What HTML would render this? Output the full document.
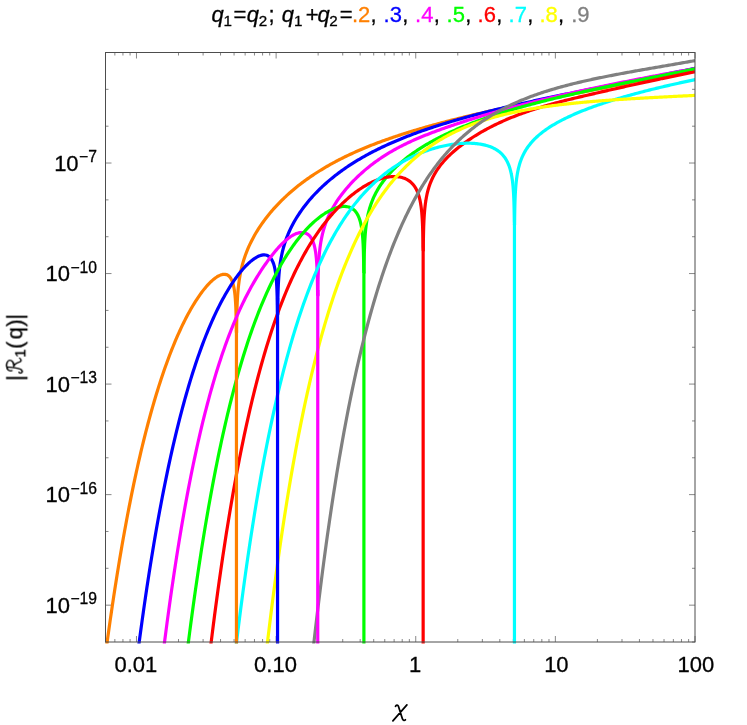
<!DOCTYPE html>
<html><head><meta charset="utf-8"><title>plot</title>
<style>html,body{margin:0;padding:0;background:#fff}svg{display:block}.t text,.t tspan{font-family:"Liberation Sans",sans-serif}.t .ser{font-family:"Liberation Serif",serif}</style></head>
<body>
<svg width="747" height="725" viewBox="0 0 747 725">
<defs><clipPath id="cp"><rect x="105.0" y="52.0" width="590.0" height="591.6"/></clipPath></defs>
<rect width="747" height="725" fill="#fff"/>
<path d="M105.50 642.0 v-3.0 M105.50 52.5 v3.0 M114.85 642.0 v-3.0 M114.85 52.5 v3.0 M122.95 642.0 v-3.0 M122.95 52.5 v3.0 M130.09 642.0 v-3.0 M130.09 52.5 v3.0 M136.48 642.0 v-6.0 M136.48 52.5 v6.0 M178.51 642.0 v-3.0 M178.51 52.5 v3.0 M203.10 642.0 v-3.0 M203.10 52.5 v3.0 M220.54 642.0 v-3.0 M220.54 52.5 v3.0 M234.07 642.0 v-3.0 M234.07 52.5 v3.0 M245.13 642.0 v-3.0 M245.13 52.5 v3.0 M254.48 642.0 v-3.0 M254.48 52.5 v3.0 M262.58 642.0 v-3.0 M262.58 52.5 v3.0 M269.72 642.0 v-3.0 M269.72 52.5 v3.0 M276.11 642.0 v-6.0 M276.11 52.5 v6.0 M318.14 642.0 v-3.0 M318.14 52.5 v3.0 M342.73 642.0 v-3.0 M342.73 52.5 v3.0 M360.17 642.0 v-3.0 M360.17 52.5 v3.0 M373.71 642.0 v-3.0 M373.71 52.5 v3.0 M384.76 642.0 v-3.0 M384.76 52.5 v3.0 M394.11 642.0 v-3.0 M394.11 52.5 v3.0 M402.21 642.0 v-3.0 M402.21 52.5 v3.0 M409.35 642.0 v-3.0 M409.35 52.5 v3.0 M415.74 642.0 v-6.0 M415.74 52.5 v6.0 M457.77 642.0 v-3.0 M457.77 52.5 v3.0 M482.36 642.0 v-3.0 M482.36 52.5 v3.0 M499.80 642.0 v-3.0 M499.80 52.5 v3.0 M513.34 642.0 v-3.0 M513.34 52.5 v3.0 M524.39 642.0 v-3.0 M524.39 52.5 v3.0 M533.74 642.0 v-3.0 M533.74 52.5 v3.0 M541.84 642.0 v-3.0 M541.84 52.5 v3.0 M548.98 642.0 v-3.0 M548.98 52.5 v3.0 M555.37 642.0 v-6.0 M555.37 52.5 v6.0 M597.40 642.0 v-3.0 M597.40 52.5 v3.0 M621.99 642.0 v-3.0 M621.99 52.5 v3.0 M639.44 642.0 v-3.0 M639.44 52.5 v3.0 M652.97 642.0 v-3.0 M652.97 52.5 v3.0 M664.02 642.0 v-3.0 M664.02 52.5 v3.0 M673.37 642.0 v-3.0 M673.37 52.5 v3.0 M681.47 642.0 v-3.0 M681.47 52.5 v3.0 M688.61 642.0 v-3.0 M688.61 52.5 v3.0 M695.00 642.0 v-6 M695.00 52.5 v6 M105.5 642.00 h3.0 M695.0 642.00 h-3.0 M105.5 605.16 h6.0 M695.0 605.16 h-6.0 M105.5 568.31 h3.0 M695.0 568.31 h-3.0 M105.5 531.47 h3.0 M695.0 531.47 h-3.0 M105.5 494.62 h6.0 M695.0 494.62 h-6.0 M105.5 457.78 h3.0 M695.0 457.78 h-3.0 M105.5 420.94 h3.0 M695.0 420.94 h-3.0 M105.5 384.09 h6.0 M695.0 384.09 h-6.0 M105.5 347.25 h3.0 M695.0 347.25 h-3.0 M105.5 310.41 h3.0 M695.0 310.41 h-3.0 M105.5 273.56 h6.0 M695.0 273.56 h-6.0 M105.5 236.72 h3.0 M695.0 236.72 h-3.0 M105.5 199.88 h3.0 M695.0 199.88 h-3.0 M105.5 163.03 h6.0 M695.0 163.03 h-6.0 M105.5 126.19 h3.0 M695.0 126.19 h-3.0 M105.5 89.34 h3.0 M695.0 89.34 h-3.0 M105.5 52.50 h6.0 M695.0 52.50 h-6.0" stroke="#555" stroke-width="0.7" fill="none"/>
<g clip-path="url(#cp)" fill="none" stroke-linejoin="round" stroke-linecap="butt">
<path d="M236.45 332.70 L236.58 332.42 L236.61 329.16 L236.64 325.89 L236.68 322.61 L236.74 319.33 L236.80 316.03 L236.88 312.71 L236.97 309.38 L237.04 307.27 L237.09 306.02 L237.23 302.63 L237.41 299.21 L237.62 295.75 L237.88 292.23 L238.20 288.66 L238.23 288.38 L238.60 285.00 L239.08 281.26 L239.42 278.93 L239.66 277.40 L240.38 273.41 L240.60 272.29 L241.26 269.26 L241.79 267.03 L242.33 264.92 L242.98 262.60 L243.65 260.36 L244.16 258.73 L245.26 255.52 L245.35 255.26 L246.54 252.10 L247.73 249.18 L248.91 246.45 L250.10 243.88 L251.29 241.46 L252.47 239.15 L253.66 236.95 L254.85 234.83 L256.03 232.81 L257.22 230.85 L258.41 228.96 L259.60 227.14 L260.78 225.36 L261.97 223.65 L263.16 221.98 L264.34 220.35 L265.53 218.77 L266.72 217.22 L267.90 215.72 L269.09 214.25 L270.28 212.81 L271.46 211.40 L272.65 210.03 L273.84 208.68 L275.03 207.36 L276.21 206.07 L277.40 204.80 L278.59 203.55 L279.77 202.33 L280.96 201.13 L282.15 199.96 L283.33 198.80 L284.52 197.66 L285.71 196.55 L286.90 195.45 L288.08 194.37 L289.27 193.30 L290.46 192.26 L291.64 191.23 L292.83 190.22 L294.02 189.22 L295.20 188.24 L296.39 187.27 L297.58 186.31 L298.76 185.37 L299.95 184.45 L301.14 183.54 L302.33 182.64 L303.51 181.75 L304.70 180.87 L305.89 180.01 L307.07 179.16 L308.26 178.32 L309.45 177.49 L310.63 176.67 L311.82 175.87 L313.01 175.07 L314.20 174.28 L315.38 173.51 L316.57 172.74 L317.76 171.98 L318.94 171.24 L320.13 170.50 L321.32 169.77 L322.50 169.05 L323.69 168.33 L324.88 167.63 L326.07 166.93 L327.25 166.25 L328.44 165.57 L329.63 164.90 L330.81 164.23 L332.00 163.58 L333.19 162.93 L334.37 162.28 L335.56 161.65 L336.75 161.02 L337.93 160.40 L339.12 159.79 L340.31 159.18 L341.50 158.58 L342.68 157.98 L343.87 157.39 L345.06 156.81 L346.24 156.23 L347.43 155.66 L348.62 155.10 L349.80 154.54 L350.99 153.99 L352.18 153.44 L353.37 152.90 L354.55 152.36 L355.74 151.83 L356.93 151.30 L358.11 150.78 L359.30 150.26 L360.49 149.75 L361.67 149.24 L362.86 148.74 L364.05 148.24 L365.23 147.75 L366.42 147.26 L367.61 146.77 L368.80 146.29 L369.98 145.82 L371.17 145.35 L372.36 144.88 L373.54 144.41 L374.73 143.96 L375.92 143.50 L377.10 143.05 L378.29 142.60 L379.48 142.16 L380.67 141.71 L381.85 141.28 L383.04 140.84 L384.23 140.41 L385.41 139.99 L386.60 139.56 L387.79 139.14 L388.97 138.73 L390.16 138.31 L391.35 137.90 L392.53 137.50 L393.72 137.09 L394.91 136.69 L396.10 136.29 L397.28 135.90 L398.47 135.50 L399.66 135.11 L400.84 134.73 L402.03 134.34 L403.22 133.96 L404.40 133.58 L405.59 133.20 L406.78 132.83 L407.97 132.46 L409.15 132.09 L410.34 131.72 L411.53 131.35 L412.71 130.99 L413.90 130.63 L415.09 130.27 L416.27 129.92 L417.46 129.56 L418.65 129.21 L419.83 128.86 L421.02 128.51 L422.21 128.17 L423.40 127.82 L424.58 127.48 L425.77 127.14 L426.96 126.81 L428.14 126.47 L429.33 126.14 L430.52 125.80 L431.70 125.47 L432.89 125.15 L434.08 124.82 L435.27 124.50 L436.45 124.17 L437.64 123.85 L438.83 123.53 L440.01 123.21 L441.20 122.90 L442.39 122.58 L443.57 122.27 L444.76 121.96 L445.95 121.65 L447.13 121.34 L448.32 121.03 L449.51 120.73 L450.70 120.42 L451.88 120.12 L453.07 119.82 L454.26 119.52 L455.44 119.22 L456.63 118.93 L457.82 118.63 L459.00 118.34 L460.19 118.04 L461.38 117.75 L462.57 117.46 L463.75 117.17 L464.94 116.89 L466.13 116.60 L467.31 116.31 L468.50 116.03 L469.69 115.75 L470.87 115.46 L472.06 115.18 L473.25 114.90 L474.43 114.63 L475.62 114.35 L476.81 114.07 L478.00 113.80 L479.18 113.52 L480.37 113.25 L481.56 112.98 L482.74 112.71 L483.93 112.44 L485.12 112.17 L486.30 111.90 L487.49 111.63 L488.68 111.37 L489.87 111.10 L491.05 110.84 L492.24 110.57 L493.43 110.31 L494.61 110.05 L495.80 109.79 L496.99 109.53 L498.17 109.27 L499.36 109.01 L500.55 108.75 L501.74 108.49 L502.92 108.24 L504.11 107.98 L505.30 107.73 L506.48 107.47 L507.67 107.22 L508.86 106.97 L510.04 106.71 L511.23 106.46 L512.42 106.21 L513.60 105.96 L514.79 105.71 L515.98 105.46 L517.17 105.21 L518.35 104.96 L519.54 104.72 L520.73 104.47 L521.91 104.22 L523.10 103.98 L524.29 103.73 L525.47 103.49 L526.66 103.24 L527.85 103.00 L529.04 102.76 L530.22 102.51 L531.41 102.27 L532.60 102.03 L533.78 101.79 L534.97 101.55 L536.16 101.31 L537.34 101.07 L538.53 100.83 L539.72 100.59 L540.90 100.35 L542.09 100.11 L543.28 99.87 L544.47 99.63 L545.65 99.39 L546.84 99.16 L548.03 98.92 L549.21 98.68 L550.40 98.44 L551.59 98.21 L552.77 97.97 L553.96 97.74 L555.15 97.50 L556.34 97.26 L557.52 97.03 L558.71 96.79 L559.90 96.56 L561.08 96.32 L562.27 96.09 L563.46 95.85 L564.64 95.62 L565.83 95.38 L567.02 95.15 L568.20 94.92 L569.39 94.68 L570.58 94.45 L571.77 94.21 L572.95 93.98 L574.14 93.75 L575.33 93.51 L576.51 93.28 L577.70 93.05 L578.89 92.81 L580.07 92.58 L581.26 92.34 L582.45 92.11 L583.64 91.88 L584.82 91.64 L586.01 91.41 L587.20 91.17 L588.38 90.94 L589.57 90.71 L590.76 90.47 L591.94 90.24 L593.13 90.00 L594.32 89.77 L595.50 89.53 L596.69 89.30 L597.88 89.07 L599.07 88.83 L600.25 88.59 L601.44 88.36 L602.63 88.12 L603.81 87.89 L605.00 87.65 L606.19 87.42 L607.37 87.18 L608.56 86.94 L609.75 86.71 L610.94 86.47 L612.12 86.23 L613.31 85.99 L614.50 85.76 L615.68 85.52 L616.87 85.28 L618.06 85.04 L619.24 84.80 L620.43 84.56 L621.62 84.32 L622.80 84.08 L623.99 83.84 L625.18 83.60 L626.37 83.36 L627.55 83.12 L628.74 82.87 L629.93 82.63 L631.11 82.39 L632.30 82.14 L633.49 81.90 L634.67 81.66 L635.86 81.41 L637.05 81.17 L638.24 80.92 L639.42 80.68 L640.61 80.43 L641.80 80.18 L642.98 79.93 L644.17 79.69 L645.36 79.44 L646.54 79.19 L647.73 78.94 L648.92 78.69 L650.10 78.44 L651.29 78.19 L652.48 77.93 L653.67 77.68 L654.85 77.43 L656.04 77.17 L657.23 76.92 L658.41 76.66 L659.60 76.41 L660.79 76.15 L661.97 75.90 L663.16 75.64 L664.35 75.38 L665.54 75.12 L666.72 74.86 L667.91 74.60 L669.10 74.34 L670.28 74.08 L671.47 73.82 L672.66 73.55 L673.84 73.29 L675.03 73.02 L676.22 72.76 L677.40 72.49 L678.59 72.22 L679.78 71.96 L680.97 71.69 L682.15 71.42 L683.34 71.15 L684.53 70.88 L685.71 70.60 L686.90 70.33 L688.09 70.06 L689.27 69.78 L690.46 69.51 L691.65 69.23 L692.84 68.96 L694.02 68.68 L695.21 68.40 L696.40 68.12" stroke="#ff8000" stroke-width="3.2"/>
<path d="M277.55 314.87 L277.68 314.62 L277.71 311.36 L277.74 308.10 L277.78 304.82 L277.84 301.54 L277.90 298.25 L277.98 294.94 L278.07 291.62 L278.19 288.27 L278.33 284.90 L278.51 281.50 L278.59 280.14 L278.72 278.06 L278.98 274.58 L279.30 271.03 L279.70 267.42 L279.77 266.77 L280.18 263.73 L280.76 259.93 L280.96 258.78 L281.48 256.02 L282.15 252.88 L282.36 251.96 L283.33 248.09 L283.43 247.73 L284.52 244.01 L284.75 243.29 L285.71 240.42 L286.36 238.61 L286.90 237.19 L288.08 234.23 L289.27 231.49 L290.46 228.93 L291.64 226.52 L292.83 224.25 L294.02 222.08 L295.20 220.01 L296.39 218.03 L297.58 216.12 L298.76 214.28 L299.95 212.51 L301.14 210.80 L302.33 209.14 L303.51 207.52 L304.70 205.96 L305.89 204.43 L307.07 202.95 L308.26 201.50 L309.45 200.09 L310.63 198.71 L311.82 197.37 L313.01 196.05 L314.20 194.76 L315.38 193.50 L316.57 192.27 L317.76 191.06 L318.94 189.87 L320.13 188.71 L321.32 187.57 L322.50 186.45 L323.69 185.35 L324.88 184.27 L326.07 183.21 L327.25 182.16 L328.44 181.14 L329.63 180.13 L330.81 179.14 L332.00 178.16 L333.19 177.20 L334.37 176.26 L335.56 175.33 L336.75 174.41 L337.93 173.51 L339.12 172.62 L340.31 171.74 L341.50 170.88 L342.68 170.03 L343.87 169.19 L345.06 168.36 L346.24 167.55 L347.43 166.74 L348.62 165.95 L349.80 165.17 L350.99 164.40 L352.18 163.63 L353.37 162.88 L354.55 162.14 L355.74 161.41 L356.93 160.68 L358.11 159.97 L359.30 159.26 L360.49 158.56 L361.67 157.87 L362.86 157.19 L364.05 156.52 L365.23 155.86 L366.42 155.20 L367.61 154.55 L368.80 153.91 L369.98 153.28 L371.17 152.65 L372.36 152.03 L373.54 151.42 L374.73 150.81 L375.92 150.21 L377.10 149.62 L378.29 149.03 L379.48 148.45 L380.67 147.87 L381.85 147.30 L383.04 146.74 L384.23 146.18 L385.41 145.63 L386.60 145.09 L387.79 144.55 L388.97 144.01 L390.16 143.48 L391.35 142.96 L392.53 142.44 L393.72 141.92 L394.91 141.41 L396.10 140.91 L397.28 140.41 L398.47 139.91 L399.66 139.42 L400.84 138.94 L402.03 138.45 L403.22 137.98 L404.40 137.50 L405.59 137.03 L406.78 136.57 L407.97 136.11 L409.15 135.65 L410.34 135.20 L411.53 134.75 L412.71 134.30 L413.90 133.86 L415.09 133.42 L416.27 132.98 L417.46 132.55 L418.65 132.12 L419.83 131.70 L421.02 131.28 L422.21 130.86 L423.40 130.45 L424.58 130.03 L425.77 129.63 L426.96 129.22 L428.14 128.82 L429.33 128.42 L430.52 128.02 L431.70 127.63 L432.89 127.24 L434.08 126.85 L435.27 126.47 L436.45 126.08 L437.64 125.70 L438.83 125.33 L440.01 124.95 L441.20 124.58 L442.39 124.21 L443.57 123.84 L444.76 123.48 L445.95 123.12 L447.13 122.76 L448.32 122.40 L449.51 122.04 L450.70 121.69 L451.88 121.34 L453.07 120.99 L454.26 120.64 L455.44 120.30 L456.63 119.96 L457.82 119.62 L459.00 119.28 L460.19 118.94 L461.38 118.61 L462.57 118.28 L463.75 117.94 L464.94 117.62 L466.13 117.29 L467.31 116.96 L468.50 116.64 L469.69 116.32 L470.87 116.00 L472.06 115.68 L473.25 115.36 L474.43 115.05 L475.62 114.74 L476.81 114.42 L478.00 114.11 L479.18 113.81 L480.37 113.50 L481.56 113.19 L482.74 112.89 L483.93 112.59 L485.12 112.29 L486.30 111.99 L487.49 111.69 L488.68 111.39 L489.87 111.09 L491.05 110.80 L492.24 110.51 L493.43 110.22 L494.61 109.92 L495.80 109.64 L496.99 109.35 L498.17 109.06 L499.36 108.78 L500.55 108.49 L501.74 108.21 L502.92 107.93 L504.11 107.64 L505.30 107.36 L506.48 107.09 L507.67 106.81 L508.86 106.53 L510.04 106.26 L511.23 105.98 L512.42 105.71 L513.60 105.43 L514.79 105.16 L515.98 104.89 L517.17 104.62 L518.35 104.35 L519.54 104.08 L520.73 103.82 L521.91 103.55 L523.10 103.29 L524.29 103.02 L525.47 102.76 L526.66 102.49 L527.85 102.23 L529.04 101.97 L530.22 101.71 L531.41 101.45 L532.60 101.19 L533.78 100.93 L534.97 100.68 L536.16 100.42 L537.34 100.16 L538.53 99.91 L539.72 99.65 L540.90 99.40 L542.09 99.14 L543.28 98.89 L544.47 98.64 L545.65 98.39 L546.84 98.14 L548.03 97.89 L549.21 97.64 L550.40 97.39 L551.59 97.14 L552.77 96.89 L553.96 96.64 L555.15 96.39 L556.34 96.15 L557.52 95.90 L558.71 95.66 L559.90 95.41 L561.08 95.17 L562.27 94.92 L563.46 94.68 L564.64 94.43 L565.83 94.19 L567.02 93.95 L568.20 93.71 L569.39 93.46 L570.58 93.22 L571.77 92.98 L572.95 92.74 L574.14 92.50 L575.33 92.26 L576.51 92.02 L577.70 91.78 L578.89 91.54 L580.07 91.30 L581.26 91.06 L582.45 90.83 L583.64 90.59 L584.82 90.35 L586.01 90.11 L587.20 89.88 L588.38 89.64 L589.57 89.40 L590.76 89.17 L591.94 88.93 L593.13 88.69 L594.32 88.46 L595.50 88.22 L596.69 87.99 L597.88 87.75 L599.07 87.52 L600.25 87.28 L601.44 87.05 L602.63 86.81 L603.81 86.58 L605.00 86.34 L606.19 86.11 L607.37 85.87 L608.56 85.64 L609.75 85.40 L610.94 85.17 L612.12 84.94 L613.31 84.70 L614.50 84.47 L615.68 84.23 L616.87 84.00 L618.06 83.77 L619.24 83.53 L620.43 83.30 L621.62 83.06 L622.80 82.83 L623.99 82.60 L625.18 82.36 L626.37 82.13 L627.55 81.89 L628.74 81.66 L629.93 81.43 L631.11 81.19 L632.30 80.96 L633.49 80.72 L634.67 80.49 L635.86 80.25 L637.05 80.02 L638.24 79.78 L639.42 79.55 L640.61 79.31 L641.80 79.08 L642.98 78.84 L644.17 78.61 L645.36 78.37 L646.54 78.14 L647.73 77.90 L648.92 77.67 L650.10 77.43 L651.29 77.19 L652.48 76.96 L653.67 76.72 L654.85 76.48 L656.04 76.24 L657.23 76.01 L658.41 75.77 L659.60 75.53 L660.79 75.29 L661.97 75.05 L663.16 74.82 L664.35 74.58 L665.54 74.34 L666.72 74.10 L667.91 73.86 L669.10 73.62 L670.28 73.38 L671.47 73.14 L672.66 72.90 L673.84 72.65 L675.03 72.41 L676.22 72.17 L677.40 71.93 L678.59 71.68 L679.78 71.44 L680.97 71.20 L682.15 70.95 L683.34 70.71 L684.53 70.46 L685.71 70.22 L686.90 69.97 L688.09 69.73 L689.27 69.48 L690.46 69.23 L691.65 68.99 L692.84 68.74 L694.02 68.49 L695.21 68.24 L696.40 67.99" stroke="#0000ff" stroke-width="3.2"/>
<path d="M317.75 295.68 L317.88 295.47 L317.91 292.22 L317.94 288.96 L317.98 285.70 L318.04 282.43 L318.10 279.15 L318.18 275.86 L318.27 272.55 L318.39 269.23 L318.53 265.89 L318.71 262.52 L318.92 259.12 L318.94 258.80 L319.18 255.68 L319.50 252.20 L319.90 248.66 L320.13 246.81 L320.38 245.05 L320.96 241.37 L321.32 239.41 L321.68 237.58 L322.50 233.90 L322.56 233.67 L323.63 229.62 L323.69 229.43 L324.88 225.62 L324.95 225.40 L326.07 222.27 L326.56 220.97 L327.25 219.25 L328.44 216.50 L329.63 213.96 L330.81 211.58 L332.00 209.35 L333.19 207.23 L334.37 205.22 L335.56 203.30 L336.75 201.46 L337.93 199.69 L339.12 197.99 L340.31 196.34 L341.50 194.74 L342.68 193.20 L343.87 191.69 L345.06 190.23 L346.24 188.81 L347.43 187.42 L348.62 186.07 L349.80 184.75 L350.99 183.45 L352.18 182.19 L353.37 180.96 L354.55 179.75 L355.74 178.56 L356.93 177.40 L358.11 176.27 L359.30 175.15 L360.49 174.06 L361.67 172.99 L362.86 171.94 L364.05 170.90 L365.23 169.89 L366.42 168.89 L367.61 167.92 L368.80 166.96 L369.98 166.01 L371.17 165.09 L372.36 164.18 L373.54 163.28 L374.73 162.40 L375.92 161.54 L377.10 160.69 L378.29 159.85 L379.48 159.03 L380.67 158.23 L381.85 157.43 L383.04 156.65 L384.23 155.88 L385.41 155.13 L386.60 154.38 L387.79 153.65 L388.97 152.93 L390.16 152.22 L391.35 151.53 L392.53 150.84 L393.72 150.16 L394.91 149.50 L396.10 148.84 L397.28 148.20 L398.47 147.56 L399.66 146.94 L400.84 146.32 L402.03 145.71 L403.22 145.11 L404.40 144.52 L405.59 143.94 L406.78 143.37 L407.97 142.80 L409.15 142.24 L410.34 141.69 L411.53 141.15 L412.71 140.61 L413.90 140.08 L415.09 139.56 L416.27 139.04 L417.46 138.53 L418.65 138.02 L419.83 137.53 L421.02 137.03 L422.21 136.54 L423.40 136.06 L424.58 135.58 L425.77 135.11 L426.96 134.64 L428.14 134.17 L429.33 133.71 L430.52 133.26 L431.70 132.80 L432.89 132.36 L434.08 131.91 L435.27 131.47 L436.45 131.03 L437.64 130.59 L438.83 130.16 L440.01 129.72 L441.20 129.30 L442.39 128.87 L443.57 128.45 L444.76 128.03 L445.95 127.61 L447.13 127.19 L448.32 126.78 L449.51 126.37 L450.70 125.96 L451.88 125.55 L453.07 125.15 L454.26 124.75 L455.44 124.35 L456.63 123.95 L457.82 123.56 L459.00 123.17 L460.19 122.78 L461.38 122.39 L462.57 122.00 L463.75 121.62 L464.94 121.24 L466.13 120.86 L467.31 120.48 L468.50 120.10 L469.69 119.73 L470.87 119.36 L472.06 118.99 L473.25 118.62 L474.43 118.25 L475.62 117.89 L476.81 117.53 L478.00 117.17 L479.18 116.81 L480.37 116.45 L481.56 116.09 L482.74 115.74 L483.93 115.39 L485.12 115.04 L486.30 114.69 L487.49 114.34 L488.68 114.00 L489.87 113.65 L491.05 113.31 L492.24 112.97 L493.43 112.63 L494.61 112.29 L495.80 111.96 L496.99 111.62 L498.17 111.29 L499.36 110.96 L500.55 110.63 L501.74 110.30 L502.92 109.97 L504.11 109.65 L505.30 109.32 L506.48 109.00 L507.67 108.67 L508.86 108.35 L510.04 108.03 L511.23 107.72 L512.42 107.40 L513.60 107.08 L514.79 106.77 L515.98 106.46 L517.17 106.15 L518.35 105.83 L519.54 105.53 L520.73 105.22 L521.91 104.91 L523.10 104.60 L524.29 104.30 L525.47 104.00 L526.66 103.69 L527.85 103.39 L529.04 103.09 L530.22 102.79 L531.41 102.50 L532.60 102.20 L533.78 101.90 L534.97 101.61 L536.16 101.31 L537.34 101.02 L538.53 100.73 L539.72 100.44 L540.90 100.15 L542.09 99.86 L543.28 99.57 L544.47 99.29 L545.65 99.00 L546.84 98.72 L548.03 98.43 L549.21 98.15 L550.40 97.87 L551.59 97.59 L552.77 97.31 L553.96 97.03 L555.15 96.75 L556.34 96.47 L557.52 96.20 L558.71 95.92 L559.90 95.65 L561.08 95.37 L562.27 95.10 L563.46 94.83 L564.64 94.56 L565.83 94.29 L567.02 94.02 L568.20 93.75 L569.39 93.48 L570.58 93.21 L571.77 92.95 L572.95 92.68 L574.14 92.42 L575.33 92.15 L576.51 91.89 L577.70 91.63 L578.89 91.37 L580.07 91.11 L581.26 90.85 L582.45 90.59 L583.64 90.33 L584.82 90.07 L586.01 89.81 L587.20 89.56 L588.38 89.30 L589.57 89.05 L590.76 88.79 L591.94 88.54 L593.13 88.28 L594.32 88.03 L595.50 87.78 L596.69 87.53 L597.88 87.28 L599.07 87.03 L600.25 86.78 L601.44 86.53 L602.63 86.29 L603.81 86.04 L605.00 85.79 L606.19 85.55 L607.37 85.30 L608.56 85.06 L609.75 84.81 L610.94 84.57 L612.12 84.33 L613.31 84.09 L614.50 83.84 L615.68 83.60 L616.87 83.36 L618.06 83.12 L619.24 82.89 L620.43 82.65 L621.62 82.41 L622.80 82.17 L623.99 81.94 L625.18 81.70 L626.37 81.46 L627.55 81.23 L628.74 80.99 L629.93 80.76 L631.11 80.53 L632.30 80.29 L633.49 80.06 L634.67 79.83 L635.86 79.60 L637.05 79.37 L638.24 79.14 L639.42 78.91 L640.61 78.68 L641.80 78.45 L642.98 78.22 L644.17 77.99 L645.36 77.77 L646.54 77.54 L647.73 77.31 L648.92 77.09 L650.10 76.86 L651.29 76.64 L652.48 76.41 L653.67 76.19 L654.85 75.96 L656.04 75.74 L657.23 75.52 L658.41 75.30 L659.60 75.08 L660.79 74.85 L661.97 74.63 L663.16 74.41 L664.35 74.19 L665.54 73.97 L666.72 73.75 L667.91 73.54 L669.10 73.32 L670.28 73.10 L671.47 72.88 L672.66 72.66 L673.84 72.45 L675.03 72.23 L676.22 72.02 L677.40 71.80 L678.59 71.59 L679.78 71.37 L680.97 71.16 L682.15 70.94 L683.34 70.73 L684.53 70.52 L685.71 70.30 L686.90 70.09 L688.09 69.88 L689.27 69.67 L690.46 69.46 L691.65 69.24 L692.84 69.03 L694.02 68.82 L695.21 68.61 L696.40 68.40" stroke="#ff00ff" stroke-width="3.2"/>
<path d="M363.90 272.90 L364.03 272.73 L364.05 270.32 L364.06 269.48 L364.09 266.23 L364.13 262.98 L364.19 259.71 L364.25 256.44 L364.33 253.17 L364.42 249.88 L364.54 246.57 L364.68 243.25 L364.86 239.91 L365.07 236.55 L365.23 234.35 L365.33 233.15 L365.65 229.72 L366.05 226.24 L366.42 223.42 L366.53 222.72 L367.11 219.12 L367.61 216.51 L367.83 215.45 L368.71 211.68 L368.80 211.35 L369.78 207.80 L369.98 207.16 L371.10 203.79 L371.17 203.60 L372.36 200.48 L372.71 199.62 L373.54 197.69 L374.73 195.16 L375.92 192.82 L377.10 190.66 L378.29 188.63 L379.48 186.72 L380.67 184.91 L381.85 183.19 L383.04 181.55 L384.23 179.97 L385.41 178.47 L386.60 177.01 L387.79 175.61 L388.97 174.26 L390.16 172.94 L391.35 171.67 L392.53 170.44 L393.72 169.24 L394.91 168.07 L396.10 166.93 L397.28 165.83 L398.47 164.74 L399.66 163.69 L400.84 162.65 L402.03 161.64 L403.22 160.65 L404.40 159.69 L405.59 158.74 L406.78 157.81 L407.97 156.89 L409.15 156.00 L410.34 155.12 L411.53 154.26 L412.71 153.41 L413.90 152.58 L415.09 151.76 L416.27 150.95 L417.46 150.16 L418.65 149.38 L419.83 148.62 L421.02 147.86 L422.21 147.12 L423.40 146.38 L424.58 145.66 L425.77 144.95 L426.96 144.25 L428.14 143.56 L429.33 142.88 L430.52 142.20 L431.70 141.54 L432.89 140.88 L434.08 140.24 L435.27 139.60 L436.45 138.97 L437.64 138.35 L438.83 137.74 L440.01 137.13 L441.20 136.53 L442.39 135.94 L443.57 135.35 L444.76 134.78 L445.95 134.20 L447.13 133.64 L448.32 133.08 L449.51 132.53 L450.70 131.98 L451.88 131.44 L453.07 130.91 L454.26 130.38 L455.44 129.86 L456.63 129.34 L457.82 128.83 L459.00 128.32 L460.19 127.82 L461.38 127.32 L462.57 126.83 L463.75 126.34 L464.94 125.86 L466.13 125.38 L467.31 124.91 L468.50 124.44 L469.69 123.98 L470.87 123.52 L472.06 123.06 L473.25 122.61 L474.43 122.16 L475.62 121.72 L476.81 121.28 L478.00 120.85 L479.18 120.41 L480.37 119.98 L481.56 119.56 L482.74 119.14 L483.93 118.72 L485.12 118.31 L486.30 117.90 L487.49 117.49 L488.68 117.08 L489.87 116.68 L491.05 116.28 L492.24 115.89 L493.43 115.50 L494.61 115.11 L495.80 114.72 L496.99 114.34 L498.17 113.96 L499.36 113.58 L500.55 113.21 L501.74 112.83 L502.92 112.46 L504.11 112.10 L505.30 111.73 L506.48 111.37 L507.67 111.01 L508.86 110.65 L510.04 110.30 L511.23 109.95 L512.42 109.60 L513.60 109.25 L514.79 108.90 L515.98 108.56 L517.17 108.22 L518.35 107.88 L519.54 107.54 L520.73 107.21 L521.91 106.88 L523.10 106.54 L524.29 106.22 L525.47 105.89 L526.66 105.56 L527.85 105.24 L529.04 104.92 L530.22 104.60 L531.41 104.28 L532.60 103.96 L533.78 103.65 L534.97 103.34 L536.16 103.03 L537.34 102.72 L538.53 102.41 L539.72 102.10 L540.90 101.80 L542.09 101.49 L543.28 101.19 L544.47 100.89 L545.65 100.59 L546.84 100.29 L548.03 100.00 L549.21 99.70 L550.40 99.41 L551.59 99.12 L552.77 98.83 L553.96 98.54 L555.15 98.25 L556.34 97.96 L557.52 97.68 L558.71 97.39 L559.90 97.11 L561.08 96.83 L562.27 96.55 L563.46 96.27 L564.64 95.99 L565.83 95.71 L567.02 95.44 L568.20 95.16 L569.39 94.89 L570.58 94.61 L571.77 94.34 L572.95 94.07 L574.14 93.80 L575.33 93.53 L576.51 93.26 L577.70 92.99 L578.89 92.73 L580.07 92.46 L581.26 92.20 L582.45 91.93 L583.64 91.67 L584.82 91.41 L586.01 91.15 L587.20 90.89 L588.38 90.63 L589.57 90.37 L590.76 90.11 L591.94 89.85 L593.13 89.59 L594.32 89.34 L595.50 89.08 L596.69 88.83 L597.88 88.57 L599.07 88.32 L600.25 88.07 L601.44 87.82 L602.63 87.56 L603.81 87.31 L605.00 87.06 L606.19 86.81 L607.37 86.56 L608.56 86.32 L609.75 86.07 L610.94 85.82 L612.12 85.57 L613.31 85.33 L614.50 85.08 L615.68 84.83 L616.87 84.59 L618.06 84.35 L619.24 84.10 L620.43 83.86 L621.62 83.61 L622.80 83.37 L623.99 83.13 L625.18 82.89 L626.37 82.65 L627.55 82.40 L628.74 82.16 L629.93 81.92 L631.11 81.68 L632.30 81.44 L633.49 81.20 L634.67 80.96 L635.86 80.72 L637.05 80.49 L638.24 80.25 L639.42 80.01 L640.61 79.77 L641.80 79.53 L642.98 79.30 L644.17 79.06 L645.36 78.82 L646.54 78.59 L647.73 78.35 L648.92 78.11 L650.10 77.88 L651.29 77.64 L652.48 77.40 L653.67 77.17 L654.85 76.93 L656.04 76.70 L657.23 76.46 L658.41 76.23 L659.60 75.99 L660.79 75.76 L661.97 75.52 L663.16 75.29 L664.35 75.05 L665.54 74.82 L666.72 74.58 L667.91 74.35 L669.10 74.12 L670.28 73.88 L671.47 73.65 L672.66 73.41 L673.84 73.18 L675.03 72.94 L676.22 72.71 L677.40 72.47 L678.59 72.24 L679.78 72.00 L680.97 71.77 L682.15 71.54 L683.34 71.30 L684.53 71.07 L685.71 70.83 L686.90 70.60 L688.09 70.36 L689.27 70.13 L690.46 69.89 L691.65 69.66 L692.84 69.42 L694.02 69.18 L695.21 68.95 L696.40 68.71" stroke="#00ff00" stroke-width="3.2"/>
<path d="M423.15 250.43 L423.28 250.33 L423.31 247.09 L423.34 243.85 L423.38 240.60 L423.40 239.75 L423.44 237.35 L423.50 234.10 L423.58 230.84 L423.67 227.57 L423.79 224.30 L423.93 221.01 L424.11 217.72 L424.32 214.41 L424.58 211.08 L424.58 211.08 L424.90 207.72 L425.30 204.34 L425.77 200.97 L425.78 200.93 L426.36 197.48 L426.96 194.54 L427.08 193.98 L427.96 190.41 L428.14 189.74 L429.03 186.78 L429.33 185.88 L430.35 183.05 L430.52 182.62 L431.70 179.79 L431.96 179.22 L432.89 177.27 L434.08 174.99 L435.27 172.90 L436.45 170.97 L437.64 169.16 L438.83 167.47 L440.01 165.87 L441.20 164.35 L442.39 162.90 L443.57 161.51 L444.76 160.18 L445.95 158.90 L447.13 157.66 L448.32 156.46 L449.51 155.31 L450.70 154.18 L451.88 153.09 L453.07 152.02 L454.26 150.99 L455.44 149.97 L456.63 148.98 L457.82 148.02 L459.00 147.07 L460.19 146.15 L461.38 145.24 L462.57 144.35 L463.75 143.47 L464.94 142.62 L466.13 141.77 L467.31 140.95 L468.50 140.13 L469.69 139.33 L470.87 138.55 L472.06 137.77 L473.25 137.01 L474.43 136.26 L475.62 135.52 L476.81 134.79 L478.00 134.07 L479.18 133.37 L480.37 132.67 L481.56 131.98 L482.74 131.31 L483.93 130.64 L485.12 129.98 L486.30 129.33 L487.49 128.70 L488.68 128.07 L489.87 127.44 L491.05 126.83 L492.24 126.23 L493.43 125.63 L494.61 125.04 L495.80 124.46 L496.99 123.89 L498.17 123.33 L499.36 122.77 L500.55 122.22 L501.74 121.68 L502.92 121.14 L504.11 120.62 L505.30 120.10 L506.48 119.58 L507.67 119.07 L508.86 118.57 L510.04 118.08 L511.23 117.59 L512.42 117.11 L513.60 116.64 L514.79 116.17 L515.98 115.70 L517.17 115.25 L518.35 114.80 L519.54 114.35 L520.73 113.91 L521.91 113.47 L523.10 113.04 L524.29 112.62 L525.47 112.20 L526.66 111.79 L527.85 111.38 L529.04 110.97 L530.22 110.58 L531.41 110.18 L532.60 109.79 L533.78 109.41 L534.97 109.02 L536.16 108.65 L537.34 108.27 L538.53 107.91 L539.72 107.54 L540.90 107.18 L542.09 106.82 L543.28 106.47 L544.47 106.12 L545.65 105.78 L546.84 105.43 L548.03 105.09 L549.21 104.76 L550.40 104.43 L551.59 104.10 L552.77 103.77 L553.96 103.45 L555.15 103.13 L556.34 102.81 L557.52 102.49 L558.71 102.18 L559.90 101.87 L561.08 101.56 L562.27 101.26 L563.46 100.95 L564.64 100.65 L565.83 100.35 L567.02 100.06 L568.20 99.76 L569.39 99.47 L570.58 99.18 L571.77 98.89 L572.95 98.60 L574.14 98.31 L575.33 98.02 L576.51 97.74 L577.70 97.46 L578.89 97.17 L580.07 96.89 L581.26 96.61 L582.45 96.33 L583.64 96.05 L584.82 95.78 L586.01 95.50 L587.20 95.22 L588.38 94.95 L589.57 94.67 L590.76 94.39 L591.94 94.12 L593.13 93.84 L594.32 93.57 L595.50 93.29 L596.69 93.02 L597.88 92.75 L599.07 92.47 L600.25 92.20 L601.44 91.93 L602.63 91.66 L603.81 91.39 L605.00 91.11 L606.19 90.84 L607.37 90.57 L608.56 90.30 L609.75 90.03 L610.94 89.76 L612.12 89.49 L613.31 89.23 L614.50 88.96 L615.68 88.69 L616.87 88.42 L618.06 88.16 L619.24 87.89 L620.43 87.62 L621.62 87.36 L622.80 87.09 L623.99 86.83 L625.18 86.56 L626.37 86.30 L627.55 86.03 L628.74 85.77 L629.93 85.51 L631.11 85.24 L632.30 84.98 L633.49 84.72 L634.67 84.46 L635.86 84.20 L637.05 83.94 L638.24 83.68 L639.42 83.42 L640.61 83.16 L641.80 82.90 L642.98 82.64 L644.17 82.38 L645.36 82.12 L646.54 81.87 L647.73 81.61 L648.92 81.35 L650.10 81.10 L651.29 80.84 L652.48 80.59 L653.67 80.33 L654.85 80.08 L656.04 79.82 L657.23 79.57 L658.41 79.32 L659.60 79.07 L660.79 78.81 L661.97 78.56 L663.16 78.31 L664.35 78.06 L665.54 77.81 L666.72 77.56 L667.91 77.31 L669.10 77.07 L670.28 76.82 L671.47 76.57 L672.66 76.32 L673.84 76.08 L675.03 75.83 L676.22 75.59 L677.40 75.34 L678.59 75.10 L679.78 74.86 L680.97 74.61 L682.15 74.37 L683.34 74.13 L684.53 73.89 L685.71 73.65 L686.90 73.41 L688.09 73.17 L689.27 72.93 L690.46 72.69 L691.65 72.45 L692.84 72.22 L694.02 71.98 L695.21 71.74 L696.40 71.51" stroke="#ff0000" stroke-width="3.2"/>
<path d="M514.45 224.56 L514.58 224.50 L514.61 221.26 L514.64 218.02 L514.68 214.78 L514.74 211.54 L514.79 208.64 L514.80 208.30 L514.88 205.05 L514.97 201.80 L515.09 198.54 L515.23 195.28 L515.41 192.01 L515.62 188.73 L515.88 185.44 L515.98 184.39 L516.20 182.14 L516.60 178.82 L517.08 175.48 L517.17 174.92 L517.66 172.12 L518.35 168.85 L518.38 168.73 L519.26 165.30 L519.54 164.33 L520.33 161.83 L520.73 160.71 L521.65 158.30 L521.91 157.67 L523.10 155.05 L523.26 154.72 L524.29 152.73 L525.47 150.64 L526.66 148.75 L527.85 147.01 L529.04 145.40 L530.22 143.90 L531.41 142.49 L532.60 141.16 L533.78 139.90 L534.97 138.70 L536.16 137.55 L537.34 136.46 L538.53 135.41 L539.72 134.40 L540.90 133.43 L542.09 132.50 L543.28 131.59 L544.47 130.71 L545.65 129.86 L546.84 129.03 L548.03 128.23 L549.21 127.45 L550.40 126.69 L551.59 125.94 L552.77 125.22 L553.96 124.51 L555.15 123.81 L556.34 123.13 L557.52 122.47 L558.71 121.82 L559.90 121.18 L561.08 120.55 L562.27 119.94 L563.46 119.33 L564.64 118.74 L565.83 118.16 L567.02 117.58 L568.20 117.02 L569.39 116.46 L570.58 115.92 L571.77 115.38 L572.95 114.85 L574.14 114.32 L575.33 113.81 L576.51 113.30 L577.70 112.80 L578.89 112.30 L580.07 111.81 L581.26 111.33 L582.45 110.85 L583.64 110.38 L584.82 109.91 L586.01 109.45 L587.20 109.00 L588.38 108.55 L589.57 108.10 L590.76 107.66 L591.94 107.23 L593.13 106.80 L594.32 106.37 L595.50 105.95 L596.69 105.53 L597.88 105.11 L599.07 104.70 L600.25 104.30 L601.44 103.90 L602.63 103.50 L603.81 103.10 L605.00 102.71 L606.19 102.32 L607.37 101.94 L608.56 101.56 L609.75 101.18 L610.94 100.80 L612.12 100.43 L613.31 100.06 L614.50 99.70 L615.68 99.33 L616.87 98.97 L618.06 98.62 L619.24 98.26 L620.43 97.91 L621.62 97.56 L622.80 97.22 L623.99 96.87 L625.18 96.53 L626.37 96.19 L627.55 95.85 L628.74 95.52 L629.93 95.19 L631.11 94.86 L632.30 94.53 L633.49 94.21 L634.67 93.88 L635.86 93.56 L637.05 93.24 L638.24 92.93 L639.42 92.61 L640.61 92.30 L641.80 91.99 L642.98 91.68 L644.17 91.37 L645.36 91.07 L646.54 90.76 L647.73 90.46 L648.92 90.16 L650.10 89.86 L651.29 89.57 L652.48 89.27 L653.67 88.98 L654.85 88.69 L656.04 88.40 L657.23 88.11 L658.41 87.83 L659.60 87.54 L660.79 87.26 L661.97 86.98 L663.16 86.70 L664.35 86.42 L665.54 86.14 L666.72 85.87 L667.91 85.59 L669.10 85.32 L670.28 85.05 L671.47 84.78 L672.66 84.51 L673.84 84.24 L675.03 83.98 L676.22 83.71 L677.40 83.45 L678.59 83.19 L679.78 82.93 L680.97 82.67 L682.15 82.41 L683.34 82.16 L684.53 81.90 L685.71 81.65 L686.90 81.39 L688.09 81.14 L689.27 80.89 L690.46 80.64 L691.65 80.40 L692.84 80.15 L694.02 79.90 L695.21 79.66 L696.40 79.41" stroke="#00ffff" stroke-width="3.2"/>
<path d="M104.10 664.76 L105.29 655.75 L106.48 646.90 L107.66 638.23 L108.85 629.72 L110.04 621.37 L111.23 613.17 L112.41 605.14 L113.60 597.25 L114.79 589.52 L115.97 581.93 L117.16 574.48 L118.35 567.18 L119.53 560.01 L120.72 552.98 L121.91 546.09 L123.10 539.32 L124.28 532.68 L125.47 526.17 L126.66 519.78 L127.84 513.52 L129.03 507.37 L130.22 501.34 L131.40 495.42 L132.59 489.62 L133.78 483.93 L134.96 478.34 L136.15 472.87 L137.34 467.49 L138.53 462.22 L139.71 457.05 L140.90 451.98 L142.09 447.00 L143.27 442.12 L144.46 437.34 L145.65 432.65 L146.83 428.04 L148.02 423.53 L149.21 419.10 L150.40 414.76 L151.58 410.50 L152.77 406.32 L153.96 402.23 L155.14 398.22 L156.33 394.28 L157.52 390.42 L158.70 386.64 L159.89 382.93 L161.08 379.29 L162.26 375.73 L163.45 372.24 L164.64 368.82 L165.83 365.46 L167.01 362.18 L168.20 358.96 L169.39 355.80 L170.57 352.71 L171.76 349.69 L172.95 346.73 L174.13 343.82 L175.32 340.98 L176.51 338.21 L177.70 335.48 L178.88 332.82 L180.07 330.22 L181.26 327.67 L182.44 325.18 L183.63 322.75 L184.82 320.37 L186.00 318.05 L187.19 315.78 L188.38 313.57 L189.56 311.41 L190.75 309.30 L191.94 307.24 L193.13 305.24 L194.31 303.30 L195.50 301.40 L196.69 299.56 L197.87 297.77 L199.06 296.03 L200.25 294.35 L201.43 292.72 L202.62 291.15 L203.81 289.63 L205.00 288.16 L206.18 286.75 L207.37 285.40 L208.56 284.11 L209.74 282.89 L210.93 281.72 L212.12 280.62 L213.30 279.59 L214.49 278.63 L215.68 277.75 L216.86 276.95 L218.05 276.23 L219.24 275.61 L220.43 275.10 L221.61 274.70 L222.80 274.43 L223.99 274.30 L225.17 274.35 L226.36 274.60 L227.55 275.10 L227.64 275.15 L228.73 275.91 L229.25 276.39 L229.92 277.13 L230.57 278.02 L231.11 278.91 L231.64 279.96 L232.30 281.53 L232.52 282.15 L233.24 284.54 L233.48 285.52 L233.82 287.09 L234.30 289.77 L234.67 292.33 L234.70 292.55 L235.02 295.42 L235.28 298.35 L235.49 301.34 L235.67 304.37 L235.81 307.44 L235.86 308.57 L235.93 310.54 L236.02 313.66 L236.10 316.80 L236.16 319.96 L236.22 323.13 L236.26 326.31 L236.29 329.50 L236.45 332.70" stroke="#ff8000" stroke-width="3.2"/>
<path d="M104.10 682.00 L105.29 682.00 L106.48 682.00 L107.66 682.00 L108.85 682.00 L110.04 682.00 L111.23 682.00 L112.41 682.00 L113.60 682.00 L114.79 682.00 L115.97 682.00 L117.16 682.00 L118.35 682.00 L119.53 682.00 L120.72 682.00 L121.91 682.00 L123.10 682.00 L124.28 682.00 L125.47 682.00 L126.66 682.00 L127.84 682.00 L129.03 682.00 L130.22 682.00 L131.40 682.00 L132.59 682.00 L133.78 682.00 L134.96 674.99 L136.15 665.54 L137.34 656.26 L138.53 647.16 L139.71 638.22 L140.90 629.46 L142.09 620.86 L143.27 612.42 L144.46 604.14 L145.65 596.02 L146.83 588.06 L148.02 580.24 L149.21 572.58 L150.40 565.05 L151.58 557.67 L152.77 550.44 L153.96 543.33 L155.14 536.37 L156.33 529.53 L157.52 522.83 L158.70 516.25 L159.89 509.80 L161.08 503.47 L162.26 497.26 L163.45 491.17 L164.64 485.19 L165.83 479.33 L167.01 473.58 L168.20 467.94 L169.39 462.41 L170.57 456.98 L171.76 451.66 L172.95 446.43 L174.13 441.31 L175.32 436.29 L176.51 431.36 L177.70 426.53 L178.88 421.79 L180.07 417.14 L181.26 412.58 L182.44 408.11 L183.63 403.72 L184.82 399.42 L186.00 395.21 L187.19 391.07 L188.38 387.02 L189.56 383.04 L190.75 379.14 L191.94 375.32 L193.13 371.58 L194.31 367.90 L195.50 364.30 L196.69 360.77 L197.87 357.31 L199.06 353.92 L200.25 350.60 L201.43 347.35 L202.62 344.16 L203.81 341.03 L205.00 337.97 L206.18 334.97 L207.37 332.03 L208.56 329.15 L209.74 326.34 L210.93 323.58 L212.12 320.88 L213.30 318.23 L214.49 315.65 L215.68 313.11 L216.86 310.64 L218.05 308.22 L219.24 305.85 L220.43 303.53 L221.61 301.27 L222.80 299.06 L223.99 296.90 L225.17 294.79 L226.36 292.73 L227.55 290.72 L228.73 288.76 L229.92 286.85 L231.11 284.98 L232.30 283.17 L233.48 281.41 L234.67 279.69 L235.86 278.02 L237.04 276.41 L238.23 274.83 L239.42 273.31 L240.60 271.84 L241.79 270.42 L242.98 269.04 L244.16 267.72 L245.35 266.45 L246.54 265.23 L247.73 264.07 L248.91 262.95 L250.10 261.90 L251.29 260.90 L252.47 259.97 L253.66 259.09 L254.85 258.29 L256.03 257.55 L257.22 256.89 L258.41 256.31 L259.60 255.81 L260.78 255.41 L261.97 255.11 L263.16 254.93 L264.34 254.88 L265.53 254.99 L266.72 255.27 L267.90 255.77 L268.74 256.28 L269.09 256.53 L270.28 257.64 L270.35 257.72 L271.46 259.19 L271.67 259.51 L272.65 261.39 L272.74 261.59 L273.62 263.88 L273.84 264.57 L274.34 266.36 L274.92 268.98 L275.03 269.50 L275.40 271.71 L275.80 274.54 L276.12 277.44 L276.21 278.45 L276.38 280.40 L276.59 283.42 L276.77 286.47 L276.91 289.55 L277.03 292.66 L277.12 295.80 L277.20 298.95 L277.26 302.11 L277.32 305.29 L277.36 308.48 L277.39 311.67 L277.40 312.23 L277.55 314.87" stroke="#0000ff" stroke-width="3.2"/>
<path d="M104.10 682.00 L105.29 682.00 L106.48 682.00 L107.66 682.00 L108.85 682.00 L110.04 682.00 L111.23 682.00 L112.41 682.00 L113.60 682.00 L114.79 682.00 L115.97 682.00 L117.16 682.00 L118.35 682.00 L119.53 682.00 L120.72 682.00 L121.91 682.00 L123.10 682.00 L124.28 682.00 L125.47 682.00 L126.66 682.00 L127.84 682.00 L129.03 682.00 L130.22 682.00 L131.40 682.00 L132.59 682.00 L133.78 682.00 L134.96 682.00 L136.15 682.00 L137.34 682.00 L138.53 682.00 L139.71 682.00 L140.90 682.00 L142.09 682.00 L143.27 682.00 L144.46 682.00 L145.65 682.00 L146.83 682.00 L148.02 682.00 L149.21 682.00 L150.40 682.00 L151.58 682.00 L152.77 682.00 L153.96 682.00 L155.14 682.00 L156.33 682.00 L157.52 682.00 L158.70 682.00 L159.89 679.59 L161.08 669.74 L162.26 660.07 L163.45 650.58 L164.64 641.26 L165.83 632.12 L167.01 623.15 L168.20 614.37 L169.39 605.75 L170.57 597.31 L171.76 589.03 L172.95 580.91 L174.13 572.95 L175.32 565.15 L176.51 557.50 L177.70 550.01 L178.88 542.66 L180.07 535.45 L181.26 528.39 L182.44 521.47 L183.63 514.68 L184.82 508.03 L186.00 501.51 L187.19 495.12 L188.38 488.86 L189.56 482.72 L190.75 476.70 L191.94 470.80 L193.13 465.02 L194.31 459.35 L195.50 453.80 L196.69 448.35 L197.87 443.02 L199.06 437.79 L200.25 432.66 L201.43 427.64 L202.62 422.72 L203.81 417.90 L205.00 413.17 L206.18 408.53 L207.37 403.99 L208.56 399.54 L209.74 395.18 L210.93 390.91 L212.12 386.72 L213.30 382.61 L214.49 378.59 L215.68 374.65 L216.86 370.79 L218.05 367.00 L219.24 363.29 L220.43 359.66 L221.61 356.09 L222.80 352.60 L223.99 349.18 L225.17 345.83 L226.36 342.54 L227.55 339.32 L228.73 336.16 L229.92 333.07 L231.11 330.04 L232.30 327.07 L233.48 324.16 L234.67 321.31 L235.86 318.51 L237.04 315.77 L238.23 313.08 L239.42 310.45 L240.60 307.87 L241.79 305.34 L242.98 302.86 L244.16 300.43 L245.35 298.05 L246.54 295.71 L247.73 293.42 L248.91 291.18 L250.10 288.98 L251.29 286.82 L252.47 284.71 L253.66 282.63 L254.85 280.60 L256.03 278.60 L257.22 276.65 L258.41 274.73 L259.60 272.85 L260.78 271.01 L261.97 269.20 L263.16 267.43 L264.34 265.69 L265.53 263.98 L266.72 262.31 L267.90 260.67 L269.09 259.06 L270.28 257.48 L271.46 255.93 L272.65 254.42 L273.84 252.95 L275.03 251.51 L276.21 250.11 L277.40 248.75 L278.59 247.42 L279.77 246.14 L280.96 244.90 L282.15 243.71 L283.33 242.56 L284.52 241.46 L285.71 240.41 L286.90 239.41 L288.08 238.47 L289.27 237.58 L290.46 236.75 L291.64 235.98 L292.83 235.28 L294.02 234.64 L295.20 234.08 L296.39 233.59 L297.58 233.19 L298.76 232.87 L299.95 232.64 L301.14 232.52 L302.33 232.51 L303.51 232.61 L304.70 232.86 L305.89 233.25 L307.07 233.84 L308.26 234.64 L308.94 235.22 L309.45 235.71 L310.55 237.02 L310.63 237.14 L311.82 239.03 L311.87 239.11 L312.94 241.42 L313.01 241.59 L313.82 243.91 L314.20 245.20 L314.54 246.54 L315.12 249.28 L315.38 250.72 L315.60 252.11 L316.00 255.02 L316.32 257.99 L316.57 260.88 L316.58 261.00 L316.79 264.06 L316.97 267.14 L317.11 270.26 L317.23 273.39 L317.32 276.54 L317.40 279.71 L317.46 282.89 L317.52 286.07 L317.56 289.27 L317.59 292.47 L317.75 295.68" stroke="#ff00ff" stroke-width="3.2"/>
<path d="M104.10 682.00 L105.29 682.00 L106.48 682.00 L107.66 682.00 L108.85 682.00 L110.04 682.00 L111.23 682.00 L112.41 682.00 L113.60 682.00 L114.79 682.00 L115.97 682.00 L117.16 682.00 L118.35 682.00 L119.53 682.00 L120.72 682.00 L121.91 682.00 L123.10 682.00 L124.28 682.00 L125.47 682.00 L126.66 682.00 L127.84 682.00 L129.03 682.00 L130.22 682.00 L131.40 682.00 L132.59 682.00 L133.78 682.00 L134.96 682.00 L136.15 682.00 L137.34 682.00 L138.53 682.00 L139.71 682.00 L140.90 682.00 L142.09 682.00 L143.27 682.00 L144.46 682.00 L145.65 682.00 L146.83 682.00 L148.02 682.00 L149.21 682.00 L150.40 682.00 L151.58 682.00 L152.77 682.00 L153.96 682.00 L155.14 682.00 L156.33 682.00 L157.52 682.00 L158.70 682.00 L159.89 682.00 L161.08 682.00 L162.26 682.00 L163.45 682.00 L164.64 682.00 L165.83 682.00 L167.01 682.00 L168.20 682.00 L169.39 682.00 L170.57 682.00 L171.76 682.00 L172.95 682.00 L174.13 682.00 L175.32 682.00 L176.51 682.00 L177.70 682.00 L178.88 682.00 L180.07 682.00 L181.26 682.00 L182.44 682.00 L183.63 680.92 L184.82 670.99 L186.00 661.25 L187.19 651.70 L188.38 642.32 L189.56 633.11 L190.75 624.08 L191.94 615.22 L193.13 606.53 L194.31 598.00 L195.50 589.63 L196.69 581.42 L197.87 573.36 L199.06 565.45 L200.25 557.69 L201.43 550.08 L202.62 542.62 L203.81 535.29 L205.00 528.10 L206.18 521.04 L207.37 514.12 L208.56 507.33 L209.74 500.66 L210.93 494.13 L212.12 487.71 L213.30 481.41 L214.49 475.24 L215.68 469.17 L216.86 463.23 L218.05 457.39 L219.24 451.67 L220.43 446.05 L221.61 440.53 L222.80 435.12 L223.99 429.82 L225.17 424.61 L226.36 419.50 L227.55 414.48 L228.73 409.57 L229.92 404.74 L231.11 400.00 L232.30 395.36 L233.48 390.80 L234.67 386.32 L235.86 381.93 L237.04 377.63 L238.23 373.40 L239.42 369.26 L240.60 365.19 L241.79 361.20 L242.98 357.28 L244.16 353.44 L245.35 349.67 L246.54 345.98 L247.73 342.35 L248.91 338.79 L250.10 335.30 L251.29 331.88 L252.47 328.52 L253.66 325.22 L254.85 321.99 L256.03 318.82 L257.22 315.71 L258.41 312.66 L259.60 309.67 L260.78 306.74 L261.97 303.86 L263.16 301.04 L264.34 298.28 L265.53 295.56 L266.72 292.90 L267.90 290.29 L269.09 287.74 L270.28 285.23 L271.46 282.77 L272.65 280.36 L273.84 278.00 L275.03 275.69 L276.21 273.42 L277.40 271.19 L278.59 269.02 L279.77 266.88 L280.96 264.79 L282.15 262.74 L283.33 260.74 L284.52 258.77 L285.71 256.85 L286.90 254.96 L288.08 253.12 L289.27 251.32 L290.46 249.55 L291.64 247.82 L292.83 246.13 L294.02 244.48 L295.20 242.86 L296.39 241.28 L297.58 239.73 L298.76 238.22 L299.95 236.75 L301.14 235.31 L302.33 233.90 L303.51 232.53 L304.70 231.19 L305.89 229.89 L307.07 228.62 L308.26 227.38 L309.45 226.17 L310.63 225.00 L311.82 223.86 L313.01 222.75 L314.20 221.68 L315.38 220.64 L316.57 219.62 L317.76 218.65 L318.94 217.70 L320.13 216.79 L321.32 215.91 L322.50 215.06 L323.69 214.25 L324.88 213.47 L326.07 212.73 L327.25 212.02 L328.44 211.34 L329.63 210.71 L330.81 210.11 L332.00 209.54 L333.19 209.02 L334.37 208.54 L335.56 208.11 L336.75 207.71 L337.93 207.37 L339.12 207.07 L340.31 206.83 L341.50 206.64 L342.68 206.51 L343.87 206.45 L345.06 206.46 L346.24 206.55 L347.43 206.72 L348.62 206.99 L349.80 207.37 L350.99 207.88 L352.18 208.53 L353.37 209.37 L354.55 210.42 L355.09 210.98 L355.74 211.74 L356.70 213.07 L356.93 213.42 L358.02 215.38 L358.11 215.58 L359.09 217.88 L359.30 218.44 L359.97 220.51 L360.49 222.42 L360.69 223.26 L361.27 226.09 L361.67 228.47 L361.75 229.01 L362.15 231.98 L362.47 235.00 L362.73 238.05 L362.86 239.88 L362.94 241.14 L363.12 244.26 L363.26 247.39 L363.38 250.55 L363.47 253.71 L363.55 256.89 L363.61 260.08 L363.67 263.28 L363.71 266.48 L363.74 269.68 L363.90 272.90" stroke="#00ff00" stroke-width="3.2"/>
<path d="M363.90 272.40 V647.0" stroke="#00ff00" stroke-width="3.2"/>
<path d="M104.10 682.00 L105.29 682.00 L106.48 682.00 L107.66 682.00 L108.85 682.00 L110.04 682.00 L111.23 682.00 L112.41 682.00 L113.60 682.00 L114.79 682.00 L115.97 682.00 L117.16 682.00 L118.35 682.00 L119.53 682.00 L120.72 682.00 L121.91 682.00 L123.10 682.00 L124.28 682.00 L125.47 682.00 L126.66 682.00 L127.84 682.00 L129.03 682.00 L130.22 682.00 L131.40 682.00 L132.59 682.00 L133.78 682.00 L134.96 682.00 L136.15 682.00 L137.34 682.00 L138.53 682.00 L139.71 682.00 L140.90 682.00 L142.09 682.00 L143.27 682.00 L144.46 682.00 L145.65 682.00 L146.83 682.00 L148.02 682.00 L149.21 682.00 L150.40 682.00 L151.58 682.00 L152.77 682.00 L153.96 682.00 L155.14 682.00 L156.33 682.00 L157.52 682.00 L158.70 682.00 L159.89 682.00 L161.08 682.00 L162.26 682.00 L163.45 682.00 L164.64 682.00 L165.83 682.00 L167.01 682.00 L168.20 682.00 L169.39 682.00 L170.57 682.00 L171.76 682.00 L172.95 682.00 L174.13 682.00 L175.32 682.00 L176.51 682.00 L177.70 682.00 L178.88 682.00 L180.07 682.00 L181.26 682.00 L182.44 682.00 L183.63 682.00 L184.82 682.00 L186.00 682.00 L187.19 682.00 L188.38 682.00 L189.56 682.00 L190.75 682.00 L191.94 682.00 L193.13 682.00 L194.31 682.00 L195.50 682.00 L196.69 682.00 L197.87 682.00 L199.06 682.00 L200.25 682.00 L201.43 682.00 L202.62 682.00 L203.81 682.00 L205.00 682.00 L206.18 682.00 L207.37 673.86 L208.56 663.77 L209.74 653.87 L210.93 644.15 L212.12 634.61 L213.30 625.25 L214.49 616.07 L215.68 607.07 L216.86 598.23 L218.05 589.57 L219.24 581.07 L220.43 572.73 L221.61 564.56 L222.80 556.53 L223.99 548.66 L225.17 540.94 L226.36 533.37 L227.55 525.94 L228.73 518.66 L229.92 511.51 L231.11 504.50 L232.30 497.62 L233.48 490.88 L234.67 484.26 L235.86 477.77 L237.04 471.40 L238.23 465.16 L239.42 459.03 L240.60 453.02 L241.79 447.13 L242.98 441.34 L244.16 435.67 L245.35 430.11 L246.54 424.65 L247.73 419.30 L248.91 414.05 L250.10 408.90 L251.29 403.85 L252.47 398.89 L253.66 394.03 L254.85 389.26 L256.03 384.58 L257.22 380.00 L258.41 375.50 L259.60 371.08 L260.78 366.75 L261.97 362.51 L263.16 358.34 L264.34 354.26 L265.53 350.25 L266.72 346.32 L267.90 342.46 L269.09 338.68 L270.28 334.97 L271.46 331.33 L272.65 327.76 L273.84 324.26 L275.03 320.83 L276.21 317.46 L277.40 314.16 L278.59 310.92 L279.77 307.74 L280.96 304.62 L282.15 301.56 L283.33 298.57 L284.52 295.62 L285.71 292.74 L286.90 289.91 L288.08 287.13 L289.27 284.41 L290.46 281.74 L291.64 279.12 L292.83 276.55 L294.02 274.03 L295.20 271.56 L296.39 269.13 L297.58 266.75 L298.76 264.42 L299.95 262.13 L301.14 259.89 L302.33 257.68 L303.51 255.52 L304.70 253.40 L305.89 251.33 L307.07 249.29 L308.26 247.29 L309.45 245.33 L310.63 243.40 L311.82 241.51 L313.01 239.66 L314.20 237.85 L315.38 236.06 L316.57 234.32 L317.76 232.60 L318.94 230.92 L320.13 229.27 L321.32 227.65 L322.50 226.06 L323.69 224.50 L324.88 222.97 L326.07 221.47 L327.25 220.00 L328.44 218.56 L329.63 217.14 L330.81 215.75 L332.00 214.38 L333.19 213.04 L334.37 211.73 L335.56 210.44 L336.75 209.18 L337.93 207.93 L339.12 206.72 L340.31 205.52 L341.50 204.35 L342.68 203.20 L343.87 202.08 L345.06 200.98 L346.24 199.90 L347.43 198.84 L348.62 197.81 L349.80 196.80 L350.99 195.81 L352.18 194.85 L353.37 193.91 L354.55 192.99 L355.74 192.09 L356.93 191.22 L358.11 190.37 L359.30 189.55 L360.49 188.74 L361.67 187.96 L362.86 187.21 L364.05 186.47 L365.23 185.76 L366.42 185.08 L367.61 184.41 L368.80 183.78 L369.98 183.16 L371.17 182.57 L372.36 182.01 L373.54 181.47 L374.73 180.95 L375.92 180.46 L377.10 180.00 L378.29 179.56 L379.48 179.15 L380.67 178.77 L381.85 178.41 L383.04 178.08 L384.23 177.78 L385.41 177.52 L386.60 177.28 L387.79 177.07 L388.97 176.90 L390.16 176.76 L391.35 176.65 L392.53 176.58 L393.72 176.55 L394.91 176.56 L396.10 176.61 L397.28 176.70 L398.47 176.84 L399.66 177.03 L400.84 177.27 L402.03 177.57 L403.22 177.93 L404.40 178.35 L405.59 178.85 L406.78 179.43 L407.97 180.11 L409.15 180.89 L410.34 181.79 L411.53 182.84 L412.71 184.06 L413.90 185.49 L414.34 186.09 L415.09 187.20 L415.95 188.66 L416.27 189.26 L417.27 191.35 L417.46 191.81 L418.34 194.15 L418.65 195.08 L419.22 197.03 L419.83 199.51 L419.94 199.97 L420.52 202.97 L421.00 206.01 L421.02 206.13 L421.40 209.08 L421.72 212.19 L421.98 215.31 L422.19 218.46 L422.21 218.72 L422.37 221.62 L422.51 224.79 L422.63 227.98 L422.72 231.17 L422.80 234.37 L422.86 237.57 L422.92 240.78 L422.96 243.99 L422.99 247.21 L423.15 250.43" stroke="#ff0000" stroke-width="3.2"/>
<path d="M423.15 249.93 V647.0" stroke="#ff0000" stroke-width="3.2"/>
<path d="M104.10 682.00 L105.29 682.00 L106.48 682.00 L107.66 682.00 L108.85 682.00 L110.04 682.00 L111.23 682.00 L112.41 682.00 L113.60 682.00 L114.79 682.00 L115.97 682.00 L117.16 682.00 L118.35 682.00 L119.53 682.00 L120.72 682.00 L121.91 682.00 L123.10 682.00 L124.28 682.00 L125.47 682.00 L126.66 682.00 L127.84 682.00 L129.03 682.00 L130.22 682.00 L131.40 682.00 L132.59 682.00 L133.78 682.00 L134.96 682.00 L136.15 682.00 L137.34 682.00 L138.53 682.00 L139.71 682.00 L140.90 682.00 L142.09 682.00 L143.27 682.00 L144.46 682.00 L145.65 682.00 L146.83 682.00 L148.02 682.00 L149.21 682.00 L150.40 682.00 L151.58 682.00 L152.77 682.00 L153.96 682.00 L155.14 682.00 L156.33 682.00 L157.52 682.00 L158.70 682.00 L159.89 682.00 L161.08 682.00 L162.26 682.00 L163.45 682.00 L164.64 682.00 L165.83 682.00 L167.01 682.00 L168.20 682.00 L169.39 682.00 L170.57 682.00 L171.76 682.00 L172.95 682.00 L174.13 682.00 L175.32 682.00 L176.51 682.00 L177.70 682.00 L178.88 682.00 L180.07 682.00 L181.26 682.00 L182.44 682.00 L183.63 682.00 L184.82 682.00 L186.00 682.00 L187.19 682.00 L188.38 682.00 L189.56 682.00 L190.75 682.00 L191.94 682.00 L193.13 682.00 L194.31 682.00 L195.50 682.00 L196.69 682.00 L197.87 682.00 L199.06 682.00 L200.25 682.00 L201.43 682.00 L202.62 682.00 L203.81 682.00 L205.00 682.00 L206.18 682.00 L207.37 682.00 L208.56 682.00 L209.74 682.00 L210.93 682.00 L212.12 682.00 L213.30 682.00 L214.49 682.00 L215.68 682.00 L216.86 682.00 L218.05 682.00 L219.24 682.00 L220.43 682.00 L221.61 682.00 L222.80 682.00 L223.99 682.00 L225.17 682.00 L226.36 682.00 L227.55 682.00 L228.73 682.00 L229.92 682.00 L231.11 682.00 L232.30 678.12 L233.48 667.80 L234.67 657.67 L235.86 647.73 L237.04 637.97 L238.23 628.40 L239.42 619.01 L240.60 609.79 L241.79 600.75 L242.98 591.88 L244.16 583.17 L245.35 574.63 L246.54 566.25 L247.73 558.02 L248.91 549.95 L250.10 542.03 L251.29 534.26 L252.47 526.64 L253.66 519.16 L254.85 511.82 L256.03 504.61 L257.22 497.54 L258.41 490.61 L259.60 483.80 L260.78 477.12 L261.97 470.57 L263.16 464.14 L264.34 457.83 L265.53 451.63 L266.72 445.55 L267.90 439.59 L269.09 433.74 L270.28 427.99 L271.46 422.36 L272.65 416.82 L273.84 411.39 L275.03 406.07 L276.21 400.84 L277.40 395.71 L278.59 390.67 L279.77 385.73 L280.96 380.88 L282.15 376.12 L283.33 371.45 L284.52 366.86 L285.71 362.36 L286.90 357.95 L288.08 353.61 L289.27 349.36 L290.46 345.18 L291.64 341.09 L292.83 337.06 L294.02 333.12 L295.20 329.24 L296.39 325.44 L297.58 321.71 L298.76 318.04 L299.95 314.45 L301.14 310.92 L302.33 307.46 L303.51 304.06 L304.70 300.72 L305.89 297.44 L307.07 294.23 L308.26 291.07 L309.45 287.98 L310.63 284.94 L311.82 281.95 L313.01 279.02 L314.20 276.15 L315.38 273.33 L316.57 270.56 L317.76 267.84 L318.94 265.17 L320.13 262.55 L321.32 259.98 L322.50 257.45 L323.69 254.97 L324.88 252.54 L326.07 250.15 L327.25 247.81 L328.44 245.51 L329.63 243.25 L330.81 241.04 L332.00 238.86 L333.19 236.73 L334.37 234.63 L335.56 232.57 L336.75 230.55 L337.93 228.57 L339.12 226.62 L340.31 224.71 L341.50 222.84 L342.68 221.00 L343.87 219.19 L345.06 217.42 L346.24 215.68 L347.43 213.97 L348.62 212.30 L349.80 210.65 L350.99 209.04 L352.18 207.45 L353.37 205.90 L354.55 204.37 L355.74 202.87 L356.93 201.40 L358.11 199.96 L359.30 198.54 L360.49 197.15 L361.67 195.79 L362.86 194.45 L364.05 193.14 L365.23 191.85 L366.42 190.58 L367.61 189.34 L368.80 188.13 L369.98 186.93 L371.17 185.76 L372.36 184.61 L373.54 183.48 L374.73 182.38 L375.92 181.29 L377.10 180.23 L378.29 179.18 L379.48 178.16 L380.67 177.16 L381.85 176.17 L383.04 175.21 L384.23 174.26 L385.41 173.33 L386.60 172.42 L387.79 171.53 L388.97 170.66 L390.16 169.80 L391.35 168.96 L392.53 168.14 L393.72 167.33 L394.91 166.54 L396.10 165.77 L397.28 165.01 L398.47 164.27 L399.66 163.54 L400.84 162.83 L402.03 162.13 L403.22 161.45 L404.40 160.78 L405.59 160.13 L406.78 159.49 L407.97 158.86 L409.15 158.25 L410.34 157.65 L411.53 157.07 L412.71 156.50 L413.90 155.94 L415.09 155.40 L416.27 154.87 L417.46 154.35 L418.65 153.84 L419.83 153.35 L421.02 152.87 L422.21 152.40 L423.40 151.94 L424.58 151.49 L425.77 151.06 L426.96 150.64 L428.14 150.23 L429.33 149.83 L430.52 149.45 L431.70 149.07 L432.89 148.71 L434.08 148.36 L435.27 148.02 L436.45 147.69 L437.64 147.37 L438.83 147.06 L440.01 146.77 L441.20 146.48 L442.39 146.21 L443.57 145.95 L444.76 145.70 L445.95 145.46 L447.13 145.23 L448.32 145.02 L449.51 144.81 L450.70 144.62 L451.88 144.44 L453.07 144.27 L454.26 144.11 L455.44 143.96 L456.63 143.83 L457.82 143.71 L459.00 143.60 L460.19 143.50 L461.38 143.42 L462.57 143.35 L463.75 143.29 L464.94 143.25 L466.13 143.22 L467.31 143.21 L468.50 143.21 L469.69 143.22 L470.87 143.26 L472.06 143.30 L473.25 143.37 L474.43 143.45 L475.62 143.55 L476.81 143.67 L478.00 143.81 L479.18 143.97 L480.37 144.16 L481.56 144.36 L482.74 144.59 L483.93 144.85 L485.12 145.13 L486.30 145.45 L487.49 145.80 L488.68 146.18 L489.87 146.60 L491.05 147.05 L492.24 147.56 L493.43 148.11 L494.61 148.72 L495.80 149.38 L496.99 150.12 L498.17 150.93 L499.36 151.83 L500.55 152.83 L501.74 153.96 L502.92 155.22 L504.11 156.66 L505.30 158.31 L505.64 158.84 L506.48 160.24 L507.25 161.67 L507.67 162.53 L508.57 164.58 L508.86 165.32 L509.64 167.55 L510.04 168.85 L510.52 170.56 L511.23 173.59 L511.24 173.62 L511.82 176.71 L512.30 179.83 L512.42 180.66 L512.70 182.96 L513.02 186.11 L513.28 189.28 L513.49 192.46 L513.60 194.42 L513.67 195.65 L513.81 198.84 L513.93 202.05 L514.02 205.25 L514.10 208.46 L514.16 211.68 L514.22 214.89 L514.26 218.11 L514.29 221.33 L514.45 224.56" stroke="#00ffff" stroke-width="3.2"/>
<path d="M514.45 224.06 V647.0" stroke="#00ffff" stroke-width="3.2"/>
<path d="M104.10 682.00 L105.29 682.00 L106.48 682.00 L107.66 682.00 L108.85 682.00 L110.04 682.00 L111.23 682.00 L112.41 682.00 L113.60 682.00 L114.79 682.00 L115.97 682.00 L117.16 682.00 L118.35 682.00 L119.53 682.00 L120.72 682.00 L121.91 682.00 L123.10 682.00 L124.28 682.00 L125.47 682.00 L126.66 682.00 L127.84 682.00 L129.03 682.00 L130.22 682.00 L131.40 682.00 L132.59 682.00 L133.78 682.00 L134.96 682.00 L136.15 682.00 L137.34 682.00 L138.53 682.00 L139.71 682.00 L140.90 682.00 L142.09 682.00 L143.27 682.00 L144.46 682.00 L145.65 682.00 L146.83 682.00 L148.02 682.00 L149.21 682.00 L150.40 682.00 L151.58 682.00 L152.77 682.00 L153.96 682.00 L155.14 682.00 L156.33 682.00 L157.52 682.00 L158.70 682.00 L159.89 682.00 L161.08 682.00 L162.26 682.00 L163.45 682.00 L164.64 682.00 L165.83 682.00 L167.01 682.00 L168.20 682.00 L169.39 682.00 L170.57 682.00 L171.76 682.00 L172.95 682.00 L174.13 682.00 L175.32 682.00 L176.51 682.00 L177.70 682.00 L178.88 682.00 L180.07 682.00 L181.26 682.00 L182.44 682.00 L183.63 682.00 L184.82 682.00 L186.00 682.00 L187.19 682.00 L188.38 682.00 L189.56 682.00 L190.75 682.00 L191.94 682.00 L193.13 682.00 L194.31 682.00 L195.50 682.00 L196.69 682.00 L197.87 682.00 L199.06 682.00 L200.25 682.00 L201.43 682.00 L202.62 682.00 L203.81 682.00 L205.00 682.00 L206.18 682.00 L207.37 682.00 L208.56 682.00 L209.74 682.00 L210.93 682.00 L212.12 682.00 L213.30 682.00 L214.49 682.00 L215.68 682.00 L216.86 682.00 L218.05 682.00 L219.24 682.00 L220.43 682.00 L221.61 682.00 L222.80 682.00 L223.99 682.00 L225.17 682.00 L226.36 682.00 L227.55 682.00 L228.73 682.00 L229.92 682.00 L231.11 682.00 L232.30 682.00 L233.48 682.00 L234.67 682.00 L235.86 682.00 L237.04 682.00 L238.23 682.00 L239.42 682.00 L240.60 682.00 L241.79 682.00 L242.98 682.00 L244.16 682.00 L245.35 682.00 L246.54 682.00 L247.73 682.00 L248.91 682.00 L250.10 682.00 L251.29 682.00 L252.47 682.00 L253.66 682.00 L254.85 682.00 L256.03 682.00 L257.22 682.00 L258.41 682.00 L259.60 682.00 L260.78 682.00 L261.97 682.00 L263.16 680.22 L264.34 669.57 L265.53 659.12 L266.72 648.87 L267.90 638.80 L269.09 628.93 L270.28 619.24 L271.46 609.73 L272.65 600.40 L273.84 591.25 L275.03 582.27 L276.21 573.46 L277.40 564.81 L278.59 556.33 L279.77 548.00 L280.96 539.83 L282.15 531.82 L283.33 523.95 L284.52 516.23 L285.71 508.66 L286.90 501.23 L288.08 493.93 L289.27 486.78 L290.46 479.75 L291.64 472.86 L292.83 466.10 L294.02 459.46 L295.20 452.95 L296.39 446.55 L297.58 440.28 L298.76 434.12 L299.95 428.08 L301.14 422.15 L302.33 416.33 L303.51 410.62 L304.70 405.02 L305.89 399.52 L307.07 394.12 L308.26 388.82 L309.45 383.62 L310.63 378.51 L311.82 373.50 L313.01 368.59 L314.20 363.76 L315.38 359.02 L316.57 354.37 L317.76 349.81 L318.94 345.33 L320.13 340.93 L321.32 336.62 L322.50 332.38 L323.69 328.22 L324.88 324.14 L326.07 320.14 L327.25 316.20 L328.44 312.34 L329.63 308.55 L330.81 304.83 L332.00 301.18 L333.19 297.60 L334.37 294.08 L335.56 290.62 L336.75 287.23 L337.93 283.90 L339.12 280.63 L340.31 277.42 L341.50 274.27 L342.68 271.18 L343.87 268.14 L345.06 265.16 L346.24 262.23 L347.43 259.35 L348.62 256.53 L349.80 253.76 L350.99 251.04 L352.18 248.37 L353.37 245.75 L354.55 243.17 L355.74 240.64 L356.93 238.16 L358.11 235.72 L359.30 233.32 L360.49 230.97 L361.67 228.66 L362.86 226.40 L364.05 224.17 L365.23 221.98 L366.42 219.84 L367.61 217.73 L368.80 215.66 L369.98 213.62 L371.17 211.62 L372.36 209.66 L373.54 207.74 L374.73 205.84 L375.92 203.98 L377.10 202.16 L378.29 200.37 L379.48 198.61 L380.67 196.88 L381.85 195.18 L383.04 193.51 L384.23 191.87 L385.41 190.26 L386.60 188.68 L387.79 187.12 L388.97 185.60 L390.16 184.10 L391.35 182.63 L392.53 181.18 L393.72 179.76 L394.91 178.36 L396.10 176.99 L397.28 175.64 L398.47 174.32 L399.66 173.02 L400.84 171.74 L402.03 170.48 L403.22 169.25 L404.40 168.04 L405.59 166.85 L406.78 165.68 L407.97 164.53 L409.15 163.40 L410.34 162.29 L411.53 161.19 L412.71 160.12 L413.90 159.07 L415.09 158.03 L416.27 157.02 L417.46 156.02 L418.65 155.03 L419.83 154.07 L421.02 153.12 L422.21 152.19 L423.40 151.27 L424.58 150.37 L425.77 149.48 L426.96 148.61 L428.14 147.76 L429.33 146.92 L430.52 146.09 L431.70 145.28 L432.89 144.48 L434.08 143.70 L435.27 142.92 L436.45 142.17 L437.64 141.42 L438.83 140.69 L440.01 139.97 L441.20 139.26 L442.39 138.56 L443.57 137.88 L444.76 137.20 L445.95 136.54 L447.13 135.89 L448.32 135.25 L449.51 134.62 L450.70 134.01 L451.88 133.40 L453.07 132.80 L454.26 132.21 L455.44 131.63 L456.63 131.07 L457.82 130.51 L459.00 129.96 L460.19 129.42 L461.38 128.88 L462.57 128.36 L463.75 127.85 L464.94 127.34 L466.13 126.85 L467.31 126.36 L468.50 125.88 L469.69 125.40 L470.87 124.94 L472.06 124.48 L473.25 124.03 L474.43 123.59 L475.62 123.15 L476.81 122.72 L478.00 122.30 L479.18 121.89 L480.37 121.48 L481.56 121.08 L482.74 120.68 L483.93 120.29 L485.12 119.91 L486.30 119.54 L487.49 119.17 L488.68 118.80 L489.87 118.44 L491.05 118.09 L492.24 117.74 L493.43 117.40 L494.61 117.07 L495.80 116.74 L496.99 116.41 L498.17 116.09 L499.36 115.78 L500.55 115.47 L501.74 115.16 L502.92 114.86 L504.11 114.57 L505.30 114.28 L506.48 113.99 L507.67 113.71 L508.86 113.43 L510.04 113.16 L511.23 112.89 L512.42 112.63 L513.60 112.37 L514.79 112.11 L515.98 111.86 L517.17 111.61 L518.35 111.37 L519.54 111.13 L520.73 110.89 L521.91 110.66 L523.10 110.43 L524.29 110.20 L525.47 109.98 L526.66 109.76 L527.85 109.54 L529.04 109.33 L530.22 109.12 L531.41 108.91 L532.60 108.71 L533.78 108.51 L534.97 108.31 L536.16 108.12 L537.34 107.93 L538.53 107.74 L539.72 107.55 L540.90 107.37 L542.09 107.19 L543.28 107.01 L544.47 106.84 L545.65 106.67 L546.84 106.50 L548.03 106.33 L549.21 106.16 L550.40 106.00 L551.59 105.84 L552.77 105.68 L553.96 105.53 L555.15 105.38 L556.34 105.22 L557.52 105.08 L558.71 104.93 L559.90 104.78 L561.08 104.64 L562.27 104.50 L563.46 104.36 L564.64 104.23 L565.83 104.09 L567.02 103.96 L568.20 103.83 L569.39 103.70 L570.58 103.57 L571.77 103.44 L572.95 103.32 L574.14 103.20 L575.33 103.08 L576.51 102.96 L577.70 102.84 L578.89 102.72 L580.07 102.61 L581.26 102.50 L582.45 102.38 L583.64 102.27 L584.82 102.16 L586.01 102.06 L587.20 101.95 L588.38 101.85 L589.57 101.74 L590.76 101.64 L591.94 101.54 L593.13 101.44 L594.32 101.34 L595.50 101.24 L596.69 101.15 L597.88 101.05 L599.07 100.96 L600.25 100.87 L601.44 100.77 L602.63 100.68 L603.81 100.59 L605.00 100.50 L606.19 100.42 L607.37 100.33 L608.56 100.24 L609.75 100.16 L610.94 100.08 L612.12 99.99 L613.31 99.91 L614.50 99.83 L615.68 99.75 L616.87 99.67 L618.06 99.59 L619.24 99.51 L620.43 99.43 L621.62 99.36 L622.80 99.28 L623.99 99.20 L625.18 99.13 L626.37 99.06 L627.55 98.98 L628.74 98.91 L629.93 98.84 L631.11 98.76 L632.30 98.69 L633.49 98.62 L634.67 98.55 L635.86 98.48 L637.05 98.41 L638.24 98.35 L639.42 98.28 L640.61 98.21 L641.80 98.14 L642.98 98.08 L644.17 98.01 L645.36 97.94 L646.54 97.88 L647.73 97.81 L648.92 97.75 L650.10 97.68 L651.29 97.62 L652.48 97.56 L653.67 97.49 L654.85 97.43 L656.04 97.37 L657.23 97.30 L658.41 97.24 L659.60 97.18 L660.79 97.12 L661.97 97.06 L663.16 96.99 L664.35 96.93 L665.54 96.87 L666.72 96.81 L667.91 96.75 L669.10 96.69 L670.28 96.63 L671.47 96.57 L672.66 96.51 L673.84 96.45 L675.03 96.39 L676.22 96.33 L677.40 96.27 L678.59 96.21 L679.78 96.15 L680.97 96.09 L682.15 96.03 L683.34 95.97 L684.53 95.91 L685.71 95.85 L686.90 95.79 L688.09 95.73 L689.27 95.67 L690.46 95.61 L691.65 95.55 L692.84 95.49 L694.02 95.43 L695.21 95.37 L696.40 95.31" stroke="#ffff00" stroke-width="3.2"/>
<path d="M104.10 682.00 L105.29 682.00 L106.48 682.00 L107.66 682.00 L108.85 682.00 L110.04 682.00 L111.23 682.00 L112.41 682.00 L113.60 682.00 L114.79 682.00 L115.97 682.00 L117.16 682.00 L118.35 682.00 L119.53 682.00 L120.72 682.00 L121.91 682.00 L123.10 682.00 L124.28 682.00 L125.47 682.00 L126.66 682.00 L127.84 682.00 L129.03 682.00 L130.22 682.00 L131.40 682.00 L132.59 682.00 L133.78 682.00 L134.96 682.00 L136.15 682.00 L137.34 682.00 L138.53 682.00 L139.71 682.00 L140.90 682.00 L142.09 682.00 L143.27 682.00 L144.46 682.00 L145.65 682.00 L146.83 682.00 L148.02 682.00 L149.21 682.00 L150.40 682.00 L151.58 682.00 L152.77 682.00 L153.96 682.00 L155.14 682.00 L156.33 682.00 L157.52 682.00 L158.70 682.00 L159.89 682.00 L161.08 682.00 L162.26 682.00 L163.45 682.00 L164.64 682.00 L165.83 682.00 L167.01 682.00 L168.20 682.00 L169.39 682.00 L170.57 682.00 L171.76 682.00 L172.95 682.00 L174.13 682.00 L175.32 682.00 L176.51 682.00 L177.70 682.00 L178.88 682.00 L180.07 682.00 L181.26 682.00 L182.44 682.00 L183.63 682.00 L184.82 682.00 L186.00 682.00 L187.19 682.00 L188.38 682.00 L189.56 682.00 L190.75 682.00 L191.94 682.00 L193.13 682.00 L194.31 682.00 L195.50 682.00 L196.69 682.00 L197.87 682.00 L199.06 682.00 L200.25 682.00 L201.43 682.00 L202.62 682.00 L203.81 682.00 L205.00 682.00 L206.18 682.00 L207.37 682.00 L208.56 682.00 L209.74 682.00 L210.93 682.00 L212.12 682.00 L213.30 682.00 L214.49 682.00 L215.68 682.00 L216.86 682.00 L218.05 682.00 L219.24 682.00 L220.43 682.00 L221.61 682.00 L222.80 682.00 L223.99 682.00 L225.17 682.00 L226.36 682.00 L227.55 682.00 L228.73 682.00 L229.92 682.00 L231.11 682.00 L232.30 682.00 L233.48 682.00 L234.67 682.00 L235.86 682.00 L237.04 682.00 L238.23 682.00 L239.42 682.00 L240.60 682.00 L241.79 682.00 L242.98 682.00 L244.16 682.00 L245.35 682.00 L246.54 682.00 L247.73 682.00 L248.91 682.00 L250.10 682.00 L251.29 682.00 L252.47 682.00 L253.66 682.00 L254.85 682.00 L256.03 682.00 L257.22 682.00 L258.41 682.00 L259.60 682.00 L260.78 682.00 L261.97 682.00 L263.16 682.00 L264.34 682.00 L265.53 682.00 L266.72 682.00 L267.90 682.00 L269.09 682.00 L270.28 682.00 L271.46 682.00 L272.65 682.00 L273.84 682.00 L275.03 682.00 L276.21 682.00 L277.40 682.00 L278.59 682.00 L279.77 682.00 L280.96 682.00 L282.15 682.00 L283.33 682.00 L284.52 682.00 L285.71 682.00 L286.90 682.00 L288.08 682.00 L289.27 682.00 L290.46 682.00 L291.64 682.00 L292.83 682.00 L294.02 682.00 L295.20 682.00 L296.39 682.00 L297.58 682.00 L298.76 682.00 L299.95 682.00 L301.14 682.00 L302.33 682.00 L303.51 682.00 L304.70 682.00 L305.89 682.00 L307.07 682.00 L308.26 682.00 L309.45 682.00 L310.63 672.05 L311.82 661.14 L313.01 650.42 L314.20 639.91 L315.38 629.60 L316.57 619.48 L317.76 609.55 L318.94 599.81 L320.13 590.25 L321.32 580.87 L322.50 571.67 L323.69 562.64 L324.88 553.78 L326.07 545.09 L327.25 536.56 L328.44 528.19 L329.63 519.98 L330.81 511.92 L332.00 504.01 L333.19 496.25 L334.37 488.64 L335.56 481.17 L336.75 473.84 L337.93 466.65 L339.12 459.59 L340.31 452.66 L341.50 445.86 L342.68 439.19 L343.87 432.65 L345.06 426.22 L346.24 419.92 L347.43 413.73 L348.62 407.66 L349.80 401.70 L350.99 395.86 L352.18 390.12 L353.37 384.49 L354.55 378.96 L355.74 373.53 L356.93 368.21 L358.11 362.99 L359.30 357.86 L360.49 352.82 L361.67 347.88 L362.86 343.04 L364.05 338.28 L365.23 333.61 L366.42 329.02 L367.61 324.52 L368.80 320.10 L369.98 315.77 L371.17 311.51 L372.36 307.33 L373.54 303.23 L374.73 299.21 L375.92 295.26 L377.10 291.38 L378.29 287.57 L379.48 283.83 L380.67 280.16 L381.85 276.56 L383.04 273.02 L384.23 269.55 L385.41 266.14 L386.60 262.79 L387.79 259.51 L388.97 256.28 L390.16 253.12 L391.35 250.01 L392.53 246.95 L393.72 243.95 L394.91 241.01 L396.10 238.12 L397.28 235.28 L398.47 232.50 L399.66 229.76 L400.84 227.07 L402.03 224.44 L403.22 221.84 L404.40 219.30 L405.59 216.80 L406.78 214.35 L407.97 211.94 L409.15 209.57 L410.34 207.25 L411.53 204.96 L412.71 202.72 L413.90 200.52 L415.09 198.36 L416.27 196.23 L417.46 194.14 L418.65 192.09 L419.83 190.08 L421.02 188.10 L422.21 186.16 L423.40 184.25 L424.58 182.38 L425.77 180.53 L426.96 178.72 L428.14 176.95 L429.33 175.20 L430.52 173.48 L431.70 171.80 L432.89 170.14 L434.08 168.51 L435.27 166.91 L436.45 165.34 L437.64 163.80 L438.83 162.28 L440.01 160.79 L441.20 159.32 L442.39 157.88 L443.57 156.47 L444.76 155.07 L445.95 153.71 L447.13 152.36 L448.32 151.04 L449.51 149.74 L450.70 148.47 L451.88 147.21 L453.07 145.98 L454.26 144.76 L455.44 143.57 L456.63 142.40 L457.82 141.25 L459.00 140.11 L460.19 139.00 L461.38 137.90 L462.57 136.83 L463.75 135.77 L464.94 134.73 L466.13 133.70 L467.31 132.69 L468.50 131.70 L469.69 130.73 L470.87 129.77 L472.06 128.83 L473.25 127.90 L474.43 126.99 L475.62 126.09 L476.81 125.20 L478.00 124.33 L479.18 123.48 L480.37 122.64 L481.56 121.81 L482.74 121.00 L483.93 120.19 L485.12 119.40 L486.30 118.63 L487.49 117.86 L488.68 117.11 L489.87 116.37 L491.05 115.64 L492.24 114.92 L493.43 114.22 L494.61 113.52 L495.80 112.84 L496.99 112.16 L498.17 111.50 L499.36 110.84 L500.55 110.20 L501.74 109.56 L502.92 108.94 L504.11 108.32 L505.30 107.72 L506.48 107.12 L507.67 106.53 L508.86 105.95 L510.04 105.38 L511.23 104.82 L512.42 104.26 L513.60 103.71 L514.79 103.17 L515.98 102.64 L517.17 102.12 L518.35 101.60 L519.54 101.09 L520.73 100.59 L521.91 100.10 L523.10 99.61 L524.29 99.13 L525.47 98.65 L526.66 98.18 L527.85 97.72 L529.04 97.27 L530.22 96.82 L531.41 96.37 L532.60 95.93 L533.78 95.50 L534.97 95.08 L536.16 94.65 L537.34 94.24 L538.53 93.83 L539.72 93.42 L540.90 93.02 L542.09 92.63 L543.28 92.24 L544.47 91.85 L545.65 91.47 L546.84 91.10 L548.03 90.72 L549.21 90.36 L550.40 89.99 L551.59 89.64 L552.77 89.28 L553.96 88.93 L555.15 88.59 L556.34 88.24 L557.52 87.90 L558.71 87.57 L559.90 87.24 L561.08 86.91 L562.27 86.59 L563.46 86.27 L564.64 85.95 L565.83 85.64 L567.02 85.33 L568.20 85.02 L569.39 84.71 L570.58 84.41 L571.77 84.11 L572.95 83.82 L574.14 83.53 L575.33 83.24 L576.51 82.95 L577.70 82.66 L578.89 82.38 L580.07 82.10 L581.26 81.83 L582.45 81.55 L583.64 81.28 L584.82 81.01 L586.01 80.74 L587.20 80.48 L588.38 80.21 L589.57 79.95 L590.76 79.69 L591.94 79.44 L593.13 79.18 L594.32 78.93 L595.50 78.68 L596.69 78.43 L597.88 78.18 L599.07 77.94 L600.25 77.69 L601.44 77.45 L602.63 77.21 L603.81 76.97 L605.00 76.73 L606.19 76.49 L607.37 76.26 L608.56 76.02 L609.75 75.79 L610.94 75.56 L612.12 75.33 L613.31 75.10 L614.50 74.88 L615.68 74.65 L616.87 74.42 L618.06 74.20 L619.24 73.98 L620.43 73.76 L621.62 73.53 L622.80 73.31 L623.99 73.10 L625.18 72.88 L626.37 72.66 L627.55 72.44 L628.74 72.23 L629.93 72.01 L631.11 71.80 L632.30 71.59 L633.49 71.37 L634.67 71.16 L635.86 70.95 L637.05 70.74 L638.24 70.53 L639.42 70.32 L640.61 70.11 L641.80 69.90 L642.98 69.69 L644.17 69.48 L645.36 69.27 L646.54 69.07 L647.73 68.86 L648.92 68.65 L650.10 68.45 L651.29 68.24 L652.48 68.04 L653.67 67.83 L654.85 67.63 L656.04 67.42 L657.23 67.21 L658.41 67.01 L659.60 66.81 L660.79 66.60 L661.97 66.40 L663.16 66.19 L664.35 65.99 L665.54 65.78 L666.72 65.58 L667.91 65.37 L669.10 65.17 L670.28 64.96 L671.47 64.76 L672.66 64.55 L673.84 64.35 L675.03 64.14 L676.22 63.94 L677.40 63.73 L678.59 63.53 L679.78 63.32 L680.97 63.11 L682.15 62.91 L683.34 62.70 L684.53 62.49 L685.71 62.29 L686.90 62.08 L688.09 61.87 L689.27 61.66 L690.46 61.45 L691.65 61.24 L692.84 61.03 L694.02 60.82 L695.21 60.61 L696.40 60.40" stroke="#808080" stroke-width="3.2"/>
<path d="M236.45 330.00 V647.0" stroke="#ff8000" stroke-width="3.2"/>
<path d="M277.55 298.00 V647.0" stroke="#0000ff" stroke-width="3.2"/>
<path d="M317.75 290.00 V647.0" stroke="#ff00ff" stroke-width="3.2"/>
</g>
<rect x="105.5" y="52.5" width="589.5" height="589.5" fill="none" stroke="#4d4d4d" stroke-width="1"/>
<g class="t" fill="#000" stroke="#000" stroke-width="0.3" font-size="22" opacity="0.999">
<text x="97" y="170.73" text-anchor="end">10<tspan dy="-8.6" dx="0.5" font-size="15.7">−7</tspan></text>
<text x="97" y="281.26" text-anchor="end">10<tspan dy="-8.6" dx="0.5" font-size="15.7">−10</tspan></text>
<text x="97" y="391.79" text-anchor="end">10<tspan dy="-8.6" dx="0.5" font-size="15.7">−13</tspan></text>
<text x="97" y="502.32" text-anchor="end">10<tspan dy="-8.6" dx="0.5" font-size="15.7">−16</tspan></text>
<text x="97" y="612.86" text-anchor="end">10<tspan dy="-8.6" dx="0.5" font-size="15.7">−19</tspan></text>
<text x="135.88" y="671.8" text-anchor="middle">0.01</text>
<text x="275.51" y="671.8" text-anchor="middle">0.10</text>
<text x="415.14" y="671.8" text-anchor="middle">1</text>
<text x="556.37" y="671.8" text-anchor="middle">10</text>
<text x="695.80" y="671.8" text-anchor="middle">100</text>
<text x="211.6" y="21.6" font-style="italic">q</text>
<text x="223.6" y="25.6" font-size="15.2">1</text>
<text x="233.6" y="21.6" >=</text>
<text x="246.8" y="21.6" font-style="italic">q</text>
<text x="258.8" y="25.6" font-size="15.2">2</text>
<text x="268.6" y="21.6" >;</text>
<text x="281.8" y="21.6" font-style="italic">q</text>
<text x="293.9" y="25.6" font-size="15.2">1</text>
<text x="305.8" y="21.6" >+</text>
<text x="317.6" y="21.6" font-style="italic">q</text>
<text x="329.2" y="25.6" font-size="15.2">2</text>
<text x="339.7" y="21.6" >=</text>
<text x="352.0" y="21.6" fill="#ff8000" stroke="#ff8000">.2</text>
<text x="370.6" y="21.6" >,</text>
<text x="383.6" y="21.6" fill="#0000ff" stroke="#0000ff">.3</text>
<text x="402.20000000000005" y="21.6" >,</text>
<text x="415.1" y="21.6" fill="#ff00ff" stroke="#ff00ff">.4</text>
<text x="433.70000000000005" y="21.6" >,</text>
<text x="446.6" y="21.6" fill="#00ff00" stroke="#00ff00">.5</text>
<text x="465.20000000000005" y="21.6" >,</text>
<text x="477.6" y="21.6" fill="#ff0000" stroke="#ff0000">.6</text>
<text x="496.20000000000005" y="21.6" >,</text>
<text x="508.6" y="21.6" fill="#00ffff" stroke="#00ffff">.7</text>
<text x="527.2" y="21.6" >,</text>
<text x="539.5" y="21.6" fill="#ffff00" stroke="#ffff00">.8</text>
<text x="558.1" y="21.6" >,</text>
<text x="571.2" y="21.6" fill="#808080" stroke="#808080">.9</text>
<path d="M395.5 706.3 C396.1 704.9 397.8 704.6 398.5 706.4 L402.3 718.4 C402.9 720.3 404.2 720.9 405.4 719.8 M406.9 704.9 L392.9 720.9" stroke="#000" stroke-width="1.75" fill="none" stroke-linecap="round" stroke-linejoin="round"/>
<g transform="translate(22.3 378.6) rotate(-90)">
<text x="-2.2" y="0">|</text>
<path transform="translate(3.4 0) scale(0.85 1)" d="M9.6 -14.6 C9.2 -10 8.6 -5 7.2 -2.2 C6.2 -0.2 4.2 0.4 3 -0.6 C2 -1.6 2.4 -3 3.6 -3.2 M5.4 -10.2 C4.4 -12.6 6 -15.4 10 -15.6 C14.6 -15.9 17.8 -14.6 17.6 -12.2 C17.4 -9.6 13.6 -8.2 10.4 -8.4 C13 -8 14.4 -5.6 15.4 -3 C16.2 -0.8 18.2 -0.4 20 -2.6" stroke="#000" stroke-width="1.5" fill="none" stroke-linecap="round" stroke-linejoin="round"/>
<text x="21" y="2.9" font-size="15.2">1</text>
<text x="29.7" y="0">(</text><text x="39.3" y="0">q</text><text x="52" y="0">)</text><text x="59" y="0">|</text>
</g>
</g>
</svg>
</body></html>
